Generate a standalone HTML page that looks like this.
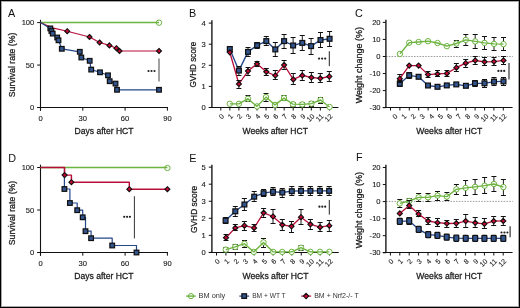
<!DOCTYPE html>
<html><head><meta charset="utf-8"><title>Figure</title>
<style>
html,body{margin:0;padding:0;background:#fff;}
body{width:520px;height:308px;overflow:hidden;font-family:"Liberation Sans", sans-serif;}
svg{display:block;}
text{-webkit-font-smoothing:antialiased;}
#wrap{filter:grayscale(0);will-change:transform;}
</style></head>
<body>
<div id="wrap"><svg width="520" height="308" viewBox="0 0 520 308" font-family='"Liberation Sans", sans-serif'>
<rect x="0" y="0" width="520" height="308" fill="#fff"/>
<text x="8" y="16.7" font-size="10.8" text-anchor="start" fill="#111" >A</text>
<line x1="40.5" y1="19.8" x2="40.5" y2="110.7" stroke="#111" stroke-width="1.1" />
<line x1="37.2" y1="107.5" x2="168" y2="107.5" stroke="#111" stroke-width="1.1" />
<line x1="37.2" y1="107.5" x2="40.5" y2="107.5" stroke="#111" stroke-width="1.0" />
<text x="34.3" y="110.1" font-size="7.6" text-anchor="end" fill="#1a1a1a" stroke="#1a1a1a" stroke-width="0.12">0</text>
<line x1="37.2" y1="65.05" x2="40.5" y2="65.05" stroke="#111" stroke-width="1.0" />
<text x="34.3" y="67.65" font-size="7.6" text-anchor="end" fill="#1a1a1a" stroke="#1a1a1a" stroke-width="0.12">50</text>
<line x1="37.2" y1="22.6" x2="40.5" y2="22.6" stroke="#111" stroke-width="1.0" />
<text x="34.3" y="25.2" font-size="7.6" text-anchor="end" fill="#1a1a1a" stroke="#1a1a1a" stroke-width="0.12">100</text>
<line x1="40.5" y1="107.5" x2="40.5" y2="110.7" stroke="#111" stroke-width="1.0" />
<text x="40.5" y="120.6" font-size="7.6" text-anchor="middle" fill="#1a1a1a" stroke="#1a1a1a" stroke-width="0.12">0</text>
<line x1="82.8" y1="107.5" x2="82.8" y2="110.7" stroke="#111" stroke-width="1.0" />
<text x="82.8" y="120.6" font-size="7.6" text-anchor="middle" fill="#1a1a1a" stroke="#1a1a1a" stroke-width="0.12">30</text>
<line x1="125.1" y1="107.5" x2="125.1" y2="110.7" stroke="#111" stroke-width="1.0" />
<text x="125.1" y="120.6" font-size="7.6" text-anchor="middle" fill="#1a1a1a" stroke="#1a1a1a" stroke-width="0.12">60</text>
<line x1="167.4" y1="107.5" x2="167.4" y2="110.7" stroke="#111" stroke-width="1.0" />
<text x="167.4" y="120.6" font-size="7.6" text-anchor="middle" fill="#1a1a1a" stroke="#1a1a1a" stroke-width="0.12">90</text>
<text x="0" y="0" transform="translate(15.4,97.2) rotate(-90)" font-size="9.4" fill="#1a1a1a" stroke="#1a1a1a" stroke-width="0.28" textLength="64.5" lengthAdjust="spacingAndGlyphs">Survival rate (%)</text>
<text x="74.5" y="134.1" font-size="9.4" fill="#1a1a1a" stroke="#1a1a1a" stroke-width="0.28" textLength="59" lengthAdjust="spacingAndGlyphs">Days after HCT</text>
<line x1="40.5" y1="22.6" x2="159" y2="22.6" stroke="#6cb33f" stroke-width="1.5" />
<circle cx="159" cy="22.7" r="2.7" fill="none" stroke="#6cb33f" stroke-width="1.0"/>
<polyline points="40.5,22.6 51.5,27.6 67.2,31.2 89.5,37 99.6,42.5 109.4,45.4 116.4,48.2 119.5,51 159,51" fill="none" stroke="#b80f3a" stroke-width="1.15" stroke-linejoin="round"/>
<polyline points="40.5,22.6 50.3,28.4 51.4,31 52.7,33.6 57.2,37.5 58.5,40.3 61.8,48.8 79.8,51.8 81.3,57.5 89.7,60.8 91.2,69.6 100,72.3 108,75.3 109.7,81.2 115.5,83.6 117,89.8 159,89.8" fill="none" stroke="#24478a" stroke-width="1.2" stroke-linejoin="round"/>
<path d="M67.2,28.7 L69.7,31.2 L67.2,33.7 L64.7,31.2 Z" fill="#c80632" stroke="#101010" stroke-width="1.1"/>
<path d="M89.5,34.5 L92,37 L89.5,39.5 L87,37 Z" fill="#c80632" stroke="#101010" stroke-width="1.1"/>
<path d="M99.6,40 L102.1,42.5 L99.6,45 L97.1,42.5 Z" fill="#c80632" stroke="#101010" stroke-width="1.1"/>
<path d="M109.4,42.9 L111.9,45.4 L109.4,47.9 L106.9,45.4 Z" fill="#c80632" stroke="#101010" stroke-width="1.1"/>
<path d="M116.4,45.7 L118.9,48.2 L116.4,50.7 L113.9,48.2 Z" fill="#c80632" stroke="#101010" stroke-width="1.1"/>
<path d="M119.5,48.5 L122,51 L119.5,53.5 L117,51 Z" fill="#c80632" stroke="#101010" stroke-width="1.1"/>
<path d="M159,48.5 L161.5,51 L159,53.5 L156.5,51 Z" fill="#c80632" stroke="#101010" stroke-width="1.1"/>
<rect x="48" y="26.1" width="4.6" height="4.6" rx="0" fill="#33558f" stroke="#101010" stroke-width="1.25"/>
<rect x="49.1" y="28.7" width="4.6" height="4.6" rx="0" fill="#33558f" stroke="#101010" stroke-width="1.25"/>
<rect x="50.4" y="31.3" width="4.6" height="4.6" rx="0" fill="#33558f" stroke="#101010" stroke-width="1.25"/>
<rect x="54.9" y="35.2" width="4.6" height="4.6" rx="0" fill="#33558f" stroke="#101010" stroke-width="1.25"/>
<rect x="56.2" y="38" width="4.6" height="4.6" rx="0" fill="#33558f" stroke="#101010" stroke-width="1.25"/>
<rect x="59.5" y="46.5" width="4.6" height="4.6" rx="0" fill="#33558f" stroke="#101010" stroke-width="1.25"/>
<rect x="77.5" y="49.5" width="4.6" height="4.6" rx="0" fill="#33558f" stroke="#101010" stroke-width="1.25"/>
<rect x="79" y="55.2" width="4.6" height="4.6" rx="0" fill="#33558f" stroke="#101010" stroke-width="1.25"/>
<rect x="87.4" y="58.5" width="4.6" height="4.6" rx="0" fill="#33558f" stroke="#101010" stroke-width="1.25"/>
<rect x="88.9" y="67.3" width="4.6" height="4.6" rx="0" fill="#33558f" stroke="#101010" stroke-width="1.25"/>
<rect x="97.7" y="70" width="4.6" height="4.6" rx="0" fill="#33558f" stroke="#101010" stroke-width="1.25"/>
<rect x="105.7" y="73" width="4.6" height="4.6" rx="0" fill="#33558f" stroke="#101010" stroke-width="1.25"/>
<rect x="107.4" y="78.9" width="4.6" height="4.6" rx="0" fill="#33558f" stroke="#101010" stroke-width="1.25"/>
<rect x="113.2" y="81.3" width="4.6" height="4.6" rx="0" fill="#33558f" stroke="#101010" stroke-width="1.25"/>
<rect x="114.7" y="87.5" width="4.6" height="4.6" rx="0" fill="#33558f" stroke="#101010" stroke-width="1.25"/>
<rect x="156.7" y="87.5" width="4.6" height="4.6" rx="0" fill="#33558f" stroke="#101010" stroke-width="1.25"/>
<line x1="159" y1="58.6" x2="159" y2="81.4" stroke="#555" stroke-width="1.1" />
<circle cx="148.5" cy="71" r="1.1" fill="#222"/>
<circle cx="151.5" cy="71" r="1.1" fill="#222"/>
<circle cx="154.5" cy="71" r="1.1" fill="#222"/>
<text x="8.3" y="161.8" font-size="10.8" text-anchor="start" fill="#111" >D</text>
<line x1="40.5" y1="164.7" x2="40.5" y2="255.7" stroke="#111" stroke-width="1.1" />
<line x1="37.2" y1="252.5" x2="168" y2="252.5" stroke="#111" stroke-width="1.1" />
<line x1="37.2" y1="252.5" x2="40.5" y2="252.5" stroke="#111" stroke-width="1.0" />
<text x="34.3" y="255.1" font-size="7.6" text-anchor="end" fill="#1a1a1a" stroke="#1a1a1a" stroke-width="0.12">0</text>
<line x1="37.2" y1="210" x2="40.5" y2="210" stroke="#111" stroke-width="1.0" />
<text x="34.3" y="212.6" font-size="7.6" text-anchor="end" fill="#1a1a1a" stroke="#1a1a1a" stroke-width="0.12">50</text>
<line x1="37.2" y1="167.5" x2="40.5" y2="167.5" stroke="#111" stroke-width="1.0" />
<text x="34.3" y="170.1" font-size="7.6" text-anchor="end" fill="#1a1a1a" stroke="#1a1a1a" stroke-width="0.12">100</text>
<line x1="40.5" y1="252.5" x2="40.5" y2="255.7" stroke="#111" stroke-width="1.0" />
<text x="40.5" y="265.6" font-size="7.6" text-anchor="middle" fill="#1a1a1a" stroke="#1a1a1a" stroke-width="0.12">0</text>
<line x1="82.8" y1="252.5" x2="82.8" y2="255.7" stroke="#111" stroke-width="1.0" />
<text x="82.8" y="265.6" font-size="7.6" text-anchor="middle" fill="#1a1a1a" stroke="#1a1a1a" stroke-width="0.12">30</text>
<line x1="125.1" y1="252.5" x2="125.1" y2="255.7" stroke="#111" stroke-width="1.0" />
<text x="125.1" y="265.6" font-size="7.6" text-anchor="middle" fill="#1a1a1a" stroke="#1a1a1a" stroke-width="0.12">60</text>
<line x1="167.4" y1="252.5" x2="167.4" y2="255.7" stroke="#111" stroke-width="1.0" />
<text x="167.4" y="265.6" font-size="7.6" text-anchor="middle" fill="#1a1a1a" stroke="#1a1a1a" stroke-width="0.12">90</text>
<text x="0" y="0" transform="translate(15.4,245.2) rotate(-90)" font-size="9.4" fill="#1a1a1a" stroke="#1a1a1a" stroke-width="0.28" textLength="64.4" lengthAdjust="spacingAndGlyphs">Survival rate (%)</text>
<text x="74.3" y="279.2" font-size="9.4" fill="#1a1a1a" stroke="#1a1a1a" stroke-width="0.28" textLength="59.1" lengthAdjust="spacingAndGlyphs">Days after HCT</text>
<line x1="40.5" y1="167.5" x2="167.4" y2="167.5" stroke="#6cb33f" stroke-width="1.5" />
<circle cx="167.4" cy="168" r="2.7" fill="none" stroke="#6cb33f" stroke-width="1.0"/>
<polyline points="40.4,167.5 64.4,167.5 64.4,189 69.9,189 69.9,203 77.2,203 77.2,210.2 82.7,210.2 82.7,217.3 85.5,217.3 85.5,231.2 91.1,231.2 91.1,238.2 112.2,238.2 112.2,245.5 136.5,245.5 136.5,252.5" fill="none" stroke="#24478a" stroke-width="1.2" stroke-linejoin="round"/>
<polyline points="40.4,167.5 64.6,167.5 64.6,175.1 71.4,175.1 71.4,182.2 129.3,182.2 129.3,189.2 167.4,189.2" fill="none" stroke="#b80f3a" stroke-width="1.45" stroke-linejoin="round"/>
<path d="M64.6,172.6 L67.1,175.1 L64.6,177.6 L62.1,175.1 Z" fill="#c80632" stroke="#101010" stroke-width="1.1"/>
<path d="M71.4,179.7 L73.9,182.2 L71.4,184.7 L68.9,182.2 Z" fill="#c80632" stroke="#101010" stroke-width="1.1"/>
<path d="M129.3,186.7 L131.8,189.2 L129.3,191.7 L126.8,189.2 Z" fill="#c80632" stroke="#101010" stroke-width="1.1"/>
<path d="M167.4,186.7 L169.9,189.2 L167.4,191.7 L164.9,189.2 Z" fill="#c80632" stroke="#101010" stroke-width="1.1"/>
<rect x="62.1" y="186.7" width="4.6" height="4.6" rx="0" fill="#33558f" stroke="#101010" stroke-width="1.25"/>
<rect x="67.6" y="200.7" width="4.6" height="4.6" rx="0" fill="#33558f" stroke="#101010" stroke-width="1.25"/>
<rect x="74.9" y="207.9" width="4.6" height="4.6" rx="0" fill="#33558f" stroke="#101010" stroke-width="1.25"/>
<rect x="80.4" y="215" width="4.6" height="4.6" rx="0" fill="#33558f" stroke="#101010" stroke-width="1.25"/>
<rect x="83.2" y="228.9" width="4.6" height="4.6" rx="0" fill="#33558f" stroke="#101010" stroke-width="1.25"/>
<rect x="88.8" y="235.9" width="4.6" height="4.6" rx="0" fill="#33558f" stroke="#101010" stroke-width="1.25"/>
<rect x="109.9" y="243.2" width="4.6" height="4.6" rx="0" fill="#33558f" stroke="#101010" stroke-width="1.25"/>
<rect x="134.2" y="250.2" width="4.6" height="4.6" rx="0" fill="#33558f" stroke="#101010" stroke-width="1.25"/>
<line x1="134.4" y1="196.2" x2="134.4" y2="238.4" stroke="#333" stroke-width="1.0" />
<circle cx="124.2" cy="216.8" r="1.1" fill="#222"/>
<circle cx="127.05" cy="216.8" r="1.1" fill="#222"/>
<circle cx="129.9" cy="216.8" r="1.1" fill="#222"/>
<text x="189" y="16.7" font-size="10.8" text-anchor="start" fill="#111" >B</text>
<line x1="211.9" y1="20.3" x2="211.9" y2="108" stroke="#111" stroke-width="1.35" />
<line x1="208.8" y1="107.5" x2="338.4" y2="107.5" stroke="#111" stroke-width="1.1" />
<line x1="208.8" y1="107.5" x2="211.9" y2="107.5" stroke="#111" stroke-width="1.0" />
<text x="205.8" y="110.1" font-size="7.6" text-anchor="end" fill="#1a1a1a" stroke="#1a1a1a" stroke-width="0.12">0</text>
<line x1="208.8" y1="86.4" x2="211.9" y2="86.4" stroke="#111" stroke-width="1.0" />
<text x="205.8" y="89" font-size="7.6" text-anchor="end" fill="#1a1a1a" stroke="#1a1a1a" stroke-width="0.12">1</text>
<line x1="208.8" y1="65.3" x2="211.9" y2="65.3" stroke="#111" stroke-width="1.0" />
<text x="205.8" y="67.9" font-size="7.6" text-anchor="end" fill="#1a1a1a" stroke="#1a1a1a" stroke-width="0.12">2</text>
<line x1="208.8" y1="44.2" x2="211.9" y2="44.2" stroke="#111" stroke-width="1.0" />
<text x="205.8" y="46.8" font-size="7.6" text-anchor="end" fill="#1a1a1a" stroke="#1a1a1a" stroke-width="0.12">3</text>
<line x1="208.8" y1="23.1" x2="211.9" y2="23.1" stroke="#111" stroke-width="1.0" />
<text x="205.8" y="25.7" font-size="7.6" text-anchor="end" fill="#1a1a1a" stroke="#1a1a1a" stroke-width="0.12">4</text>
<line x1="220.8" y1="107.5" x2="220.8" y2="110.5" stroke="#111" stroke-width="1.0" />
<text x="0" y="0" transform="translate(222.6,115) rotate(-45)" font-size="7.0" text-anchor="end" fill="#1a1a1a" stroke="#1a1a1a" stroke-width="0.12" dy="2.6">0</text>
<line x1="229.85" y1="107.5" x2="229.85" y2="110.5" stroke="#111" stroke-width="1.0" />
<text x="0" y="0" transform="translate(231.65,115) rotate(-45)" font-size="7.0" text-anchor="end" fill="#1a1a1a" stroke="#1a1a1a" stroke-width="0.12" dy="2.6">1</text>
<line x1="238.9" y1="107.5" x2="238.9" y2="110.5" stroke="#111" stroke-width="1.0" />
<text x="0" y="0" transform="translate(240.7,115) rotate(-45)" font-size="7.0" text-anchor="end" fill="#1a1a1a" stroke="#1a1a1a" stroke-width="0.12" dy="2.6">2</text>
<line x1="247.95" y1="107.5" x2="247.95" y2="110.5" stroke="#111" stroke-width="1.0" />
<text x="0" y="0" transform="translate(249.75,115) rotate(-45)" font-size="7.0" text-anchor="end" fill="#1a1a1a" stroke="#1a1a1a" stroke-width="0.12" dy="2.6">3</text>
<line x1="257" y1="107.5" x2="257" y2="110.5" stroke="#111" stroke-width="1.0" />
<text x="0" y="0" transform="translate(258.8,115) rotate(-45)" font-size="7.0" text-anchor="end" fill="#1a1a1a" stroke="#1a1a1a" stroke-width="0.12" dy="2.6">4</text>
<line x1="266.05" y1="107.5" x2="266.05" y2="110.5" stroke="#111" stroke-width="1.0" />
<text x="0" y="0" transform="translate(267.85,115) rotate(-45)" font-size="7.0" text-anchor="end" fill="#1a1a1a" stroke="#1a1a1a" stroke-width="0.12" dy="2.6">5</text>
<line x1="275.1" y1="107.5" x2="275.1" y2="110.5" stroke="#111" stroke-width="1.0" />
<text x="0" y="0" transform="translate(276.9,115) rotate(-45)" font-size="7.0" text-anchor="end" fill="#1a1a1a" stroke="#1a1a1a" stroke-width="0.12" dy="2.6">6</text>
<line x1="284.15" y1="107.5" x2="284.15" y2="110.5" stroke="#111" stroke-width="1.0" />
<text x="0" y="0" transform="translate(285.95,115) rotate(-45)" font-size="7.0" text-anchor="end" fill="#1a1a1a" stroke="#1a1a1a" stroke-width="0.12" dy="2.6">7</text>
<line x1="293.2" y1="107.5" x2="293.2" y2="110.5" stroke="#111" stroke-width="1.0" />
<text x="0" y="0" transform="translate(295,115) rotate(-45)" font-size="7.0" text-anchor="end" fill="#1a1a1a" stroke="#1a1a1a" stroke-width="0.12" dy="2.6">8</text>
<line x1="302.25" y1="107.5" x2="302.25" y2="110.5" stroke="#111" stroke-width="1.0" />
<text x="0" y="0" transform="translate(304.05,115) rotate(-45)" font-size="7.0" text-anchor="end" fill="#1a1a1a" stroke="#1a1a1a" stroke-width="0.12" dy="2.6">9</text>
<line x1="311.3" y1="107.5" x2="311.3" y2="110.5" stroke="#111" stroke-width="1.0" />
<text x="0" y="0" transform="translate(313.1,115) rotate(-45)" font-size="7.0" text-anchor="end" fill="#1a1a1a" stroke="#1a1a1a" stroke-width="0.12" dy="2.6">10</text>
<line x1="320.35" y1="107.5" x2="320.35" y2="110.5" stroke="#111" stroke-width="1.0" />
<text x="0" y="0" transform="translate(322.15,115) rotate(-45)" font-size="7.0" text-anchor="end" fill="#1a1a1a" stroke="#1a1a1a" stroke-width="0.12" dy="2.6">11</text>
<line x1="329.4" y1="107.5" x2="329.4" y2="110.5" stroke="#111" stroke-width="1.0" />
<text x="0" y="0" transform="translate(331.2,115) rotate(-45)" font-size="7.0" text-anchor="end" fill="#1a1a1a" stroke="#1a1a1a" stroke-width="0.12" dy="2.6">12</text>
<text x="0" y="0" transform="translate(195.8,87.6) rotate(-90)" font-size="9.4" fill="#1a1a1a" stroke="#1a1a1a" stroke-width="0.28" textLength="45.8" lengthAdjust="spacingAndGlyphs">GVHD score</text>
<text x="242.5" y="133.8" font-size="9.4" fill="#1a1a1a" stroke="#1a1a1a" stroke-width="0.28" textLength="65.4" lengthAdjust="spacingAndGlyphs">Weeks after HCT</text>
<line x1="248" y1="95.5" x2="248" y2="101.5" stroke="#111" stroke-width="0.95" />
<line x1="245.5" y1="95.5" x2="250.5" y2="95.5" stroke="#111" stroke-width="1.0" />
<line x1="245.5" y1="101.5" x2="250.5" y2="101.5" stroke="#111" stroke-width="1.0" />
<line x1="266" y1="93.5" x2="266" y2="101.5" stroke="#111" stroke-width="0.95" />
<line x1="263.5" y1="93.5" x2="268.5" y2="93.5" stroke="#111" stroke-width="1.0" />
<line x1="263.5" y1="101.5" x2="268.5" y2="101.5" stroke="#111" stroke-width="1.0" />
<line x1="284" y1="95.5" x2="284" y2="100.5" stroke="#111" stroke-width="0.95" />
<line x1="281.5" y1="95.5" x2="286.5" y2="95.5" stroke="#111" stroke-width="1.0" />
<line x1="281.5" y1="100.5" x2="286.5" y2="100.5" stroke="#111" stroke-width="1.0" />
<line x1="293" y1="102.5" x2="293" y2="106.5" stroke="#111" stroke-width="0.95" />
<line x1="290.5" y1="102.5" x2="295.5" y2="102.5" stroke="#111" stroke-width="1.0" />
<line x1="290.5" y1="106.5" x2="295.5" y2="106.5" stroke="#111" stroke-width="1.0" />
<line x1="302.3" y1="102.5" x2="302.3" y2="106.5" stroke="#111" stroke-width="0.95" />
<line x1="299.8" y1="102.5" x2="304.8" y2="102.5" stroke="#111" stroke-width="1.0" />
<line x1="299.8" y1="106.5" x2="304.8" y2="106.5" stroke="#111" stroke-width="1.0" />
<line x1="311.4" y1="101.5" x2="311.4" y2="106.5" stroke="#111" stroke-width="0.95" />
<line x1="308.9" y1="101.5" x2="313.9" y2="101.5" stroke="#111" stroke-width="1.0" />
<line x1="308.9" y1="106.5" x2="313.9" y2="106.5" stroke="#111" stroke-width="1.0" />
<line x1="320.5" y1="97.5" x2="320.5" y2="103.5" stroke="#111" stroke-width="0.95" />
<line x1="318" y1="97.5" x2="323" y2="97.5" stroke="#111" stroke-width="1.0" />
<line x1="318" y1="103.5" x2="323" y2="103.5" stroke="#111" stroke-width="1.0" />
<circle cx="229.8" cy="103.8" r="2.7" fill="#fff" stroke="#6cb33f" stroke-width="1.0"/>
<circle cx="238.9" cy="103.8" r="2.7" fill="#fff" stroke="#6cb33f" stroke-width="1.0"/>
<circle cx="248" cy="98.7" r="2.7" fill="#fff" stroke="#6cb33f" stroke-width="1.0"/>
<circle cx="257" cy="106.4" r="2.7" fill="#fff" stroke="#6cb33f" stroke-width="1.0"/>
<circle cx="266" cy="97.1" r="2.7" fill="#fff" stroke="#6cb33f" stroke-width="1.0"/>
<circle cx="275" cy="104.9" r="2.7" fill="#fff" stroke="#6cb33f" stroke-width="1.0"/>
<circle cx="284" cy="98.1" r="2.7" fill="#fff" stroke="#6cb33f" stroke-width="1.0"/>
<circle cx="293" cy="104.2" r="2.7" fill="#fff" stroke="#6cb33f" stroke-width="1.0"/>
<circle cx="302.3" cy="104.4" r="2.7" fill="#fff" stroke="#6cb33f" stroke-width="1.0"/>
<circle cx="311.4" cy="103.6" r="2.7" fill="#fff" stroke="#6cb33f" stroke-width="1.0"/>
<circle cx="320.5" cy="100" r="2.7" fill="#fff" stroke="#6cb33f" stroke-width="1.0"/>
<circle cx="329.6" cy="107" r="2.7" fill="#fff" stroke="#6cb33f" stroke-width="1.0"/>
<polyline points="229.8,103.8 238.9,103.8 248,98.7 257,106.4 266,97.1 275,104.9 284,98.1 293,104.2 302.3,104.4 311.4,103.6 320.5,100 329.6,107" fill="none" stroke="#6cb33f" stroke-width="1.35" stroke-linejoin="round"/>
<polyline points="229.8,49 238.9,70.6 248,51.9 257.1,45.3 266.3,41.1 275.3,49.4 284.1,41.1 293.1,45.5 302.3,42.9 311.1,46.1 320.5,40 329.6,38.8" fill="none" stroke="#24478a" stroke-width="1.35" stroke-linejoin="round"/>
<line x1="229.8" y1="46.5" x2="229.8" y2="51.5" stroke="#111" stroke-width="0.95" />
<line x1="227.3" y1="46.5" x2="232.3" y2="46.5" stroke="#111" stroke-width="1.0" />
<line x1="227.3" y1="51.5" x2="232.3" y2="51.5" stroke="#111" stroke-width="1.0" />
<line x1="238.9" y1="66.5" x2="238.9" y2="75.5" stroke="#111" stroke-width="0.95" />
<line x1="236.4" y1="66.5" x2="241.4" y2="66.5" stroke="#111" stroke-width="1.0" />
<line x1="236.4" y1="75.5" x2="241.4" y2="75.5" stroke="#111" stroke-width="1.0" />
<line x1="248" y1="47.5" x2="248" y2="56.5" stroke="#111" stroke-width="0.95" />
<line x1="245.5" y1="47.5" x2="250.5" y2="47.5" stroke="#111" stroke-width="1.0" />
<line x1="245.5" y1="56.5" x2="250.5" y2="56.5" stroke="#111" stroke-width="1.0" />
<line x1="257.1" y1="42.5" x2="257.1" y2="48.5" stroke="#111" stroke-width="0.95" />
<line x1="254.6" y1="42.5" x2="259.6" y2="42.5" stroke="#111" stroke-width="1.0" />
<line x1="254.6" y1="48.5" x2="259.6" y2="48.5" stroke="#111" stroke-width="1.0" />
<line x1="266.3" y1="36.5" x2="266.3" y2="45.5" stroke="#111" stroke-width="0.95" />
<line x1="263.8" y1="36.5" x2="268.8" y2="36.5" stroke="#111" stroke-width="1.0" />
<line x1="263.8" y1="45.5" x2="268.8" y2="45.5" stroke="#111" stroke-width="1.0" />
<line x1="275.3" y1="42.5" x2="275.3" y2="56.5" stroke="#111" stroke-width="0.95" />
<line x1="272.8" y1="42.5" x2="277.8" y2="42.5" stroke="#111" stroke-width="1.0" />
<line x1="272.8" y1="56.5" x2="277.8" y2="56.5" stroke="#111" stroke-width="1.0" />
<line x1="284.1" y1="34.5" x2="284.1" y2="48.5" stroke="#111" stroke-width="0.95" />
<line x1="281.6" y1="34.5" x2="286.6" y2="34.5" stroke="#111" stroke-width="1.0" />
<line x1="281.6" y1="48.5" x2="286.6" y2="48.5" stroke="#111" stroke-width="1.0" />
<line x1="293.1" y1="37.5" x2="293.1" y2="53.5" stroke="#111" stroke-width="0.95" />
<line x1="290.6" y1="37.5" x2="295.6" y2="37.5" stroke="#111" stroke-width="1.0" />
<line x1="290.6" y1="53.5" x2="295.6" y2="53.5" stroke="#111" stroke-width="1.0" />
<line x1="302.3" y1="35.5" x2="302.3" y2="50.5" stroke="#111" stroke-width="0.95" />
<line x1="299.8" y1="35.5" x2="304.8" y2="35.5" stroke="#111" stroke-width="1.0" />
<line x1="299.8" y1="50.5" x2="304.8" y2="50.5" stroke="#111" stroke-width="1.0" />
<line x1="311.1" y1="38.5" x2="311.1" y2="54.5" stroke="#111" stroke-width="0.95" />
<line x1="308.6" y1="38.5" x2="313.6" y2="38.5" stroke="#111" stroke-width="1.0" />
<line x1="308.6" y1="54.5" x2="313.6" y2="54.5" stroke="#111" stroke-width="1.0" />
<line x1="320.5" y1="32.5" x2="320.5" y2="47.5" stroke="#111" stroke-width="0.95" />
<line x1="318" y1="32.5" x2="323" y2="32.5" stroke="#111" stroke-width="1.0" />
<line x1="318" y1="47.5" x2="323" y2="47.5" stroke="#111" stroke-width="1.0" />
<line x1="329.6" y1="31.5" x2="329.6" y2="46.5" stroke="#111" stroke-width="0.95" />
<line x1="327.1" y1="31.5" x2="332.1" y2="31.5" stroke="#111" stroke-width="1.0" />
<line x1="327.1" y1="46.5" x2="332.1" y2="46.5" stroke="#111" stroke-width="1.0" />
<rect x="227.4" y="46.6" width="4.8" height="4.8" rx="0" fill="#33558f" stroke="#101010" stroke-width="1.25"/>
<rect x="236.5" y="68.2" width="4.8" height="4.8" rx="0" fill="#33558f" stroke="#101010" stroke-width="1.25"/>
<rect x="245.6" y="49.5" width="4.8" height="4.8" rx="0" fill="#33558f" stroke="#101010" stroke-width="1.25"/>
<rect x="254.7" y="42.9" width="4.8" height="4.8" rx="0" fill="#33558f" stroke="#101010" stroke-width="1.25"/>
<rect x="263.9" y="38.7" width="4.8" height="4.8" rx="0" fill="#33558f" stroke="#101010" stroke-width="1.25"/>
<rect x="272.9" y="47" width="4.8" height="4.8" rx="0" fill="#33558f" stroke="#101010" stroke-width="1.25"/>
<rect x="281.7" y="38.7" width="4.8" height="4.8" rx="0" fill="#33558f" stroke="#101010" stroke-width="1.25"/>
<rect x="290.7" y="43.1" width="4.8" height="4.8" rx="0" fill="#33558f" stroke="#101010" stroke-width="1.25"/>
<rect x="299.9" y="40.5" width="4.8" height="4.8" rx="0" fill="#33558f" stroke="#101010" stroke-width="1.25"/>
<rect x="308.7" y="43.7" width="4.8" height="4.8" rx="0" fill="#33558f" stroke="#101010" stroke-width="1.25"/>
<rect x="318.1" y="37.6" width="4.8" height="4.8" rx="0" fill="#33558f" stroke="#101010" stroke-width="1.25"/>
<rect x="327.2" y="36.4" width="4.8" height="4.8" rx="0" fill="#33558f" stroke="#101010" stroke-width="1.25"/>
<polyline points="229.8,52.3 238.9,84 248,71.1 257,63.8 266.3,71.8 275.3,75.5 284.1,65 293.3,79.4 302.3,75.4 311.4,77.5 320.3,78.3 329.3,76.5" fill="none" stroke="#b80f3a" stroke-width="1.3" stroke-linejoin="round"/>
<line x1="238.9" y1="80.5" x2="238.9" y2="88.5" stroke="#111" stroke-width="0.95" />
<line x1="236.4" y1="80.5" x2="241.4" y2="80.5" stroke="#111" stroke-width="1.0" />
<line x1="236.4" y1="88.5" x2="241.4" y2="88.5" stroke="#111" stroke-width="1.0" />
<line x1="248" y1="67.5" x2="248" y2="75.5" stroke="#111" stroke-width="0.95" />
<line x1="245.5" y1="67.5" x2="250.5" y2="67.5" stroke="#111" stroke-width="1.0" />
<line x1="245.5" y1="75.5" x2="250.5" y2="75.5" stroke="#111" stroke-width="1.0" />
<line x1="257" y1="61.5" x2="257" y2="66.5" stroke="#111" stroke-width="0.95" />
<line x1="254.5" y1="61.5" x2="259.5" y2="61.5" stroke="#111" stroke-width="1.0" />
<line x1="254.5" y1="66.5" x2="259.5" y2="66.5" stroke="#111" stroke-width="1.0" />
<line x1="266.3" y1="68.5" x2="266.3" y2="75.5" stroke="#111" stroke-width="0.95" />
<line x1="263.8" y1="68.5" x2="268.8" y2="68.5" stroke="#111" stroke-width="1.0" />
<line x1="263.8" y1="75.5" x2="268.8" y2="75.5" stroke="#111" stroke-width="1.0" />
<line x1="275.3" y1="70.5" x2="275.3" y2="79.5" stroke="#111" stroke-width="0.95" />
<line x1="272.8" y1="70.5" x2="277.8" y2="70.5" stroke="#111" stroke-width="1.0" />
<line x1="272.8" y1="79.5" x2="277.8" y2="79.5" stroke="#111" stroke-width="1.0" />
<line x1="284.1" y1="60.5" x2="284.1" y2="69.5" stroke="#111" stroke-width="0.95" />
<line x1="281.6" y1="60.5" x2="286.6" y2="60.5" stroke="#111" stroke-width="1.0" />
<line x1="281.6" y1="69.5" x2="286.6" y2="69.5" stroke="#111" stroke-width="1.0" />
<line x1="293.3" y1="73.5" x2="293.3" y2="84.5" stroke="#111" stroke-width="0.95" />
<line x1="290.8" y1="73.5" x2="295.8" y2="73.5" stroke="#111" stroke-width="1.0" />
<line x1="290.8" y1="84.5" x2="295.8" y2="84.5" stroke="#111" stroke-width="1.0" />
<line x1="302.3" y1="70.5" x2="302.3" y2="80.5" stroke="#111" stroke-width="0.95" />
<line x1="299.8" y1="70.5" x2="304.8" y2="70.5" stroke="#111" stroke-width="1.0" />
<line x1="299.8" y1="80.5" x2="304.8" y2="80.5" stroke="#111" stroke-width="1.0" />
<line x1="311.4" y1="72.5" x2="311.4" y2="82.5" stroke="#111" stroke-width="0.95" />
<line x1="308.9" y1="72.5" x2="313.9" y2="72.5" stroke="#111" stroke-width="1.0" />
<line x1="308.9" y1="82.5" x2="313.9" y2="82.5" stroke="#111" stroke-width="1.0" />
<line x1="320.3" y1="73.5" x2="320.3" y2="82.5" stroke="#111" stroke-width="0.95" />
<line x1="317.8" y1="73.5" x2="322.8" y2="73.5" stroke="#111" stroke-width="1.0" />
<line x1="317.8" y1="82.5" x2="322.8" y2="82.5" stroke="#111" stroke-width="1.0" />
<line x1="329.3" y1="71.5" x2="329.3" y2="81.5" stroke="#111" stroke-width="0.95" />
<line x1="326.8" y1="71.5" x2="331.8" y2="71.5" stroke="#111" stroke-width="1.0" />
<line x1="326.8" y1="81.5" x2="331.8" y2="81.5" stroke="#111" stroke-width="1.0" />
<path d="M229.8,49.75 L232.35,52.3 L229.8,54.85 L227.25,52.3 Z" fill="#c80632" stroke="#101010" stroke-width="1.1"/>
<path d="M238.9,81.45 L241.45,84 L238.9,86.55 L236.35,84 Z" fill="#c80632" stroke="#101010" stroke-width="1.1"/>
<path d="M248,68.55 L250.55,71.1 L248,73.65 L245.45,71.1 Z" fill="#c80632" stroke="#101010" stroke-width="1.1"/>
<path d="M257,61.25 L259.55,63.8 L257,66.35 L254.45,63.8 Z" fill="#c80632" stroke="#101010" stroke-width="1.1"/>
<path d="M266.3,69.25 L268.85,71.8 L266.3,74.35 L263.75,71.8 Z" fill="#c80632" stroke="#101010" stroke-width="1.1"/>
<path d="M275.3,72.95 L277.85,75.5 L275.3,78.05 L272.75,75.5 Z" fill="#c80632" stroke="#101010" stroke-width="1.1"/>
<path d="M284.1,62.45 L286.65,65 L284.1,67.55 L281.55,65 Z" fill="#c80632" stroke="#101010" stroke-width="1.1"/>
<path d="M293.3,76.85 L295.85,79.4 L293.3,81.95 L290.75,79.4 Z" fill="#c80632" stroke="#101010" stroke-width="1.1"/>
<path d="M302.3,72.85 L304.85,75.4 L302.3,77.95 L299.75,75.4 Z" fill="#c80632" stroke="#101010" stroke-width="1.1"/>
<path d="M311.4,74.95 L313.95,77.5 L311.4,80.05 L308.85,77.5 Z" fill="#c80632" stroke="#101010" stroke-width="1.1"/>
<path d="M320.3,75.75 L322.85,78.3 L320.3,80.85 L317.75,78.3 Z" fill="#c80632" stroke="#101010" stroke-width="1.1"/>
<path d="M329.3,73.95 L331.85,76.5 L329.3,79.05 L326.75,76.5 Z" fill="#c80632" stroke="#101010" stroke-width="1.1"/>
<line x1="329.3" y1="51.2" x2="329.3" y2="66.1" stroke="#222" stroke-width="1.0" />
<circle cx="319.1" cy="58.6" r="1.1" fill="#222"/>
<circle cx="322.15" cy="58.6" r="1.1" fill="#222"/>
<circle cx="325.2" cy="58.6" r="1.1" fill="#222"/>
<text x="189.2" y="161.6" font-size="10.8" text-anchor="start" fill="#111" >E</text>
<line x1="211.9" y1="164.7" x2="211.9" y2="253" stroke="#111" stroke-width="1.35" />
<line x1="208.8" y1="252.5" x2="338.8" y2="252.5" stroke="#111" stroke-width="1.1" />
<line x1="208.8" y1="252.4" x2="211.9" y2="252.4" stroke="#111" stroke-width="1.0" />
<text x="205.8" y="255" font-size="7.6" text-anchor="end" fill="#1a1a1a" stroke="#1a1a1a" stroke-width="0.12">0</text>
<line x1="208.8" y1="235.35" x2="211.9" y2="235.35" stroke="#111" stroke-width="1.0" />
<text x="205.8" y="237.95" font-size="7.6" text-anchor="end" fill="#1a1a1a" stroke="#1a1a1a" stroke-width="0.12">1</text>
<line x1="208.8" y1="218.3" x2="211.9" y2="218.3" stroke="#111" stroke-width="1.0" />
<text x="205.8" y="220.9" font-size="7.6" text-anchor="end" fill="#1a1a1a" stroke="#1a1a1a" stroke-width="0.12">2</text>
<line x1="208.8" y1="201.25" x2="211.9" y2="201.25" stroke="#111" stroke-width="1.0" />
<text x="205.8" y="203.85" font-size="7.6" text-anchor="end" fill="#1a1a1a" stroke="#1a1a1a" stroke-width="0.12">3</text>
<line x1="208.8" y1="184.2" x2="211.9" y2="184.2" stroke="#111" stroke-width="1.0" />
<text x="205.8" y="186.8" font-size="7.6" text-anchor="end" fill="#1a1a1a" stroke="#1a1a1a" stroke-width="0.12">4</text>
<line x1="208.8" y1="167.15" x2="211.9" y2="167.15" stroke="#111" stroke-width="1.0" />
<text x="205.8" y="169.75" font-size="7.6" text-anchor="end" fill="#1a1a1a" stroke="#1a1a1a" stroke-width="0.12">5</text>
<line x1="216.5" y1="252.5" x2="216.5" y2="255.5" stroke="#111" stroke-width="1.0" />
<text x="0" y="0" transform="translate(218.5,260) rotate(-45)" font-size="7.0" text-anchor="end" fill="#1a1a1a" stroke="#1a1a1a" stroke-width="0.12" dy="2.6">0</text>
<line x1="225.92" y1="252.5" x2="225.92" y2="255.5" stroke="#111" stroke-width="1.0" />
<text x="0" y="0" transform="translate(227.92,260) rotate(-45)" font-size="7.0" text-anchor="end" fill="#1a1a1a" stroke="#1a1a1a" stroke-width="0.12" dy="2.6">1</text>
<line x1="235.34" y1="252.5" x2="235.34" y2="255.5" stroke="#111" stroke-width="1.0" />
<text x="0" y="0" transform="translate(237.34,260) rotate(-45)" font-size="7.0" text-anchor="end" fill="#1a1a1a" stroke="#1a1a1a" stroke-width="0.12" dy="2.6">2</text>
<line x1="244.76" y1="252.5" x2="244.76" y2="255.5" stroke="#111" stroke-width="1.0" />
<text x="0" y="0" transform="translate(246.76,260) rotate(-45)" font-size="7.0" text-anchor="end" fill="#1a1a1a" stroke="#1a1a1a" stroke-width="0.12" dy="2.6">3</text>
<line x1="254.18" y1="252.5" x2="254.18" y2="255.5" stroke="#111" stroke-width="1.0" />
<text x="0" y="0" transform="translate(256.18,260) rotate(-45)" font-size="7.0" text-anchor="end" fill="#1a1a1a" stroke="#1a1a1a" stroke-width="0.12" dy="2.6">4</text>
<line x1="263.6" y1="252.5" x2="263.6" y2="255.5" stroke="#111" stroke-width="1.0" />
<text x="0" y="0" transform="translate(265.6,260) rotate(-45)" font-size="7.0" text-anchor="end" fill="#1a1a1a" stroke="#1a1a1a" stroke-width="0.12" dy="2.6">5</text>
<line x1="273.02" y1="252.5" x2="273.02" y2="255.5" stroke="#111" stroke-width="1.0" />
<text x="0" y="0" transform="translate(275.02,260) rotate(-45)" font-size="7.0" text-anchor="end" fill="#1a1a1a" stroke="#1a1a1a" stroke-width="0.12" dy="2.6">6</text>
<line x1="282.44" y1="252.5" x2="282.44" y2="255.5" stroke="#111" stroke-width="1.0" />
<text x="0" y="0" transform="translate(284.44,260) rotate(-45)" font-size="7.0" text-anchor="end" fill="#1a1a1a" stroke="#1a1a1a" stroke-width="0.12" dy="2.6">7</text>
<line x1="291.86" y1="252.5" x2="291.86" y2="255.5" stroke="#111" stroke-width="1.0" />
<text x="0" y="0" transform="translate(293.86,260) rotate(-45)" font-size="7.0" text-anchor="end" fill="#1a1a1a" stroke="#1a1a1a" stroke-width="0.12" dy="2.6">8</text>
<line x1="301.28" y1="252.5" x2="301.28" y2="255.5" stroke="#111" stroke-width="1.0" />
<text x="0" y="0" transform="translate(303.28,260) rotate(-45)" font-size="7.0" text-anchor="end" fill="#1a1a1a" stroke="#1a1a1a" stroke-width="0.12" dy="2.6">9</text>
<line x1="310.7" y1="252.5" x2="310.7" y2="255.5" stroke="#111" stroke-width="1.0" />
<text x="0" y="0" transform="translate(312.7,260) rotate(-45)" font-size="7.0" text-anchor="end" fill="#1a1a1a" stroke="#1a1a1a" stroke-width="0.12" dy="2.6">10</text>
<line x1="320.12" y1="252.5" x2="320.12" y2="255.5" stroke="#111" stroke-width="1.0" />
<text x="0" y="0" transform="translate(322.12,260) rotate(-45)" font-size="7.0" text-anchor="end" fill="#1a1a1a" stroke="#1a1a1a" stroke-width="0.12" dy="2.6">11</text>
<line x1="329.54" y1="252.5" x2="329.54" y2="255.5" stroke="#111" stroke-width="1.0" />
<text x="0" y="0" transform="translate(331.54,260) rotate(-45)" font-size="7.0" text-anchor="end" fill="#1a1a1a" stroke="#1a1a1a" stroke-width="0.12" dy="2.6">12</text>
<text x="0" y="0" transform="translate(196.6,233) rotate(-90)" font-size="9.4" fill="#1a1a1a" stroke="#1a1a1a" stroke-width="0.28" textLength="47.1" lengthAdjust="spacingAndGlyphs">GVHD score</text>
<text x="242.5" y="279.4" font-size="9.4" fill="#1a1a1a" stroke="#1a1a1a" stroke-width="0.28" textLength="66" lengthAdjust="spacingAndGlyphs">Weeks after HCT</text>
<line x1="225.8" y1="247.5" x2="225.8" y2="251.5" stroke="#111" stroke-width="0.95" />
<line x1="223.3" y1="247.5" x2="228.3" y2="247.5" stroke="#111" stroke-width="1.0" />
<line x1="223.3" y1="251.5" x2="228.3" y2="251.5" stroke="#111" stroke-width="1.0" />
<line x1="235.2" y1="244.5" x2="235.2" y2="249.5" stroke="#111" stroke-width="0.95" />
<line x1="232.7" y1="244.5" x2="237.7" y2="244.5" stroke="#111" stroke-width="1.0" />
<line x1="232.7" y1="249.5" x2="237.7" y2="249.5" stroke="#111" stroke-width="1.0" />
<line x1="244.5" y1="240.5" x2="244.5" y2="247.5" stroke="#111" stroke-width="0.95" />
<line x1="242" y1="240.5" x2="247" y2="240.5" stroke="#111" stroke-width="1.0" />
<line x1="242" y1="247.5" x2="247" y2="247.5" stroke="#111" stroke-width="1.0" />
<line x1="263.5" y1="238.5" x2="263.5" y2="247.5" stroke="#111" stroke-width="0.95" />
<line x1="261" y1="238.5" x2="266" y2="238.5" stroke="#111" stroke-width="1.0" />
<line x1="261" y1="247.5" x2="266" y2="247.5" stroke="#111" stroke-width="1.0" />
<line x1="301" y1="245.5" x2="301" y2="250.5" stroke="#111" stroke-width="0.95" />
<line x1="298.5" y1="245.5" x2="303.5" y2="245.5" stroke="#111" stroke-width="1.0" />
<line x1="298.5" y1="250.5" x2="303.5" y2="250.5" stroke="#111" stroke-width="1.0" />
<circle cx="225.8" cy="249.6" r="2.7" fill="#fff" stroke="#6cb33f" stroke-width="1.0"/>
<circle cx="235.2" cy="246.9" r="2.7" fill="#fff" stroke="#6cb33f" stroke-width="1.0"/>
<circle cx="244.5" cy="243.7" r="2.7" fill="#fff" stroke="#6cb33f" stroke-width="1.0"/>
<circle cx="253.8" cy="251.9" r="2.7" fill="#fff" stroke="#6cb33f" stroke-width="1.0"/>
<circle cx="263.5" cy="242.4" r="2.7" fill="#fff" stroke="#6cb33f" stroke-width="1.0"/>
<circle cx="273.2" cy="251.9" r="2.7" fill="#fff" stroke="#6cb33f" stroke-width="1.0"/>
<circle cx="282.2" cy="251.9" r="2.7" fill="#fff" stroke="#6cb33f" stroke-width="1.0"/>
<circle cx="291.7" cy="251.9" r="2.7" fill="#fff" stroke="#6cb33f" stroke-width="1.0"/>
<circle cx="301" cy="247.7" r="2.7" fill="#fff" stroke="#6cb33f" stroke-width="1.0"/>
<circle cx="310.4" cy="251.8" r="2.7" fill="#fff" stroke="#6cb33f" stroke-width="1.0"/>
<circle cx="320" cy="251.8" r="2.7" fill="#fff" stroke="#6cb33f" stroke-width="1.0"/>
<circle cx="329.4" cy="251.8" r="2.7" fill="#fff" stroke="#6cb33f" stroke-width="1.0"/>
<polyline points="225.8,249.6 235.2,246.9 244.5,243.7 253.8,251.9 263.5,242.4 273.2,251.9 282.2,251.9 291.7,251.9 301,247.7 310.4,251.8 320,251.8 329.4,251.8" fill="none" stroke="#6cb33f" stroke-width="1.35" stroke-linejoin="round"/>
<polyline points="225.6,220.6 235.3,211.3 244.4,204.5 254.2,196.7 263.6,193.2 273,191.7 282.3,192.5 291.8,191.2 301,190.9 310.4,190.9 319.9,190.9 329.1,190.9" fill="none" stroke="#24478a" stroke-width="1.35" stroke-linejoin="round"/>
<line x1="225.6" y1="217.5" x2="225.6" y2="223.5" stroke="#111" stroke-width="0.95" />
<line x1="223.1" y1="217.5" x2="228.1" y2="217.5" stroke="#111" stroke-width="1.0" />
<line x1="223.1" y1="223.5" x2="228.1" y2="223.5" stroke="#111" stroke-width="1.0" />
<line x1="235.3" y1="206.5" x2="235.3" y2="216.5" stroke="#111" stroke-width="0.95" />
<line x1="232.8" y1="206.5" x2="237.8" y2="206.5" stroke="#111" stroke-width="1.0" />
<line x1="232.8" y1="216.5" x2="237.8" y2="216.5" stroke="#111" stroke-width="1.0" />
<line x1="244.4" y1="198.5" x2="244.4" y2="210.5" stroke="#111" stroke-width="0.95" />
<line x1="241.9" y1="198.5" x2="246.9" y2="198.5" stroke="#111" stroke-width="1.0" />
<line x1="241.9" y1="210.5" x2="246.9" y2="210.5" stroke="#111" stroke-width="1.0" />
<line x1="254.2" y1="191.5" x2="254.2" y2="201.5" stroke="#111" stroke-width="0.95" />
<line x1="251.7" y1="191.5" x2="256.7" y2="191.5" stroke="#111" stroke-width="1.0" />
<line x1="251.7" y1="201.5" x2="256.7" y2="201.5" stroke="#111" stroke-width="1.0" />
<line x1="263.6" y1="189.5" x2="263.6" y2="196.5" stroke="#111" stroke-width="0.95" />
<line x1="261.1" y1="189.5" x2="266.1" y2="189.5" stroke="#111" stroke-width="1.0" />
<line x1="261.1" y1="196.5" x2="266.1" y2="196.5" stroke="#111" stroke-width="1.0" />
<line x1="273" y1="187.5" x2="273" y2="195.5" stroke="#111" stroke-width="0.95" />
<line x1="270.5" y1="187.5" x2="275.5" y2="187.5" stroke="#111" stroke-width="1.0" />
<line x1="270.5" y1="195.5" x2="275.5" y2="195.5" stroke="#111" stroke-width="1.0" />
<line x1="282.3" y1="188.5" x2="282.3" y2="197.5" stroke="#111" stroke-width="0.95" />
<line x1="279.8" y1="188.5" x2="284.8" y2="188.5" stroke="#111" stroke-width="1.0" />
<line x1="279.8" y1="197.5" x2="284.8" y2="197.5" stroke="#111" stroke-width="1.0" />
<line x1="291.8" y1="186.5" x2="291.8" y2="195.5" stroke="#111" stroke-width="0.95" />
<line x1="289.3" y1="186.5" x2="294.3" y2="186.5" stroke="#111" stroke-width="1.0" />
<line x1="289.3" y1="195.5" x2="294.3" y2="195.5" stroke="#111" stroke-width="1.0" />
<line x1="301" y1="186.5" x2="301" y2="195.5" stroke="#111" stroke-width="0.95" />
<line x1="298.5" y1="186.5" x2="303.5" y2="186.5" stroke="#111" stroke-width="1.0" />
<line x1="298.5" y1="195.5" x2="303.5" y2="195.5" stroke="#111" stroke-width="1.0" />
<line x1="310.4" y1="186.5" x2="310.4" y2="195.5" stroke="#111" stroke-width="0.95" />
<line x1="307.9" y1="186.5" x2="312.9" y2="186.5" stroke="#111" stroke-width="1.0" />
<line x1="307.9" y1="195.5" x2="312.9" y2="195.5" stroke="#111" stroke-width="1.0" />
<line x1="319.9" y1="186.5" x2="319.9" y2="195.5" stroke="#111" stroke-width="0.95" />
<line x1="317.4" y1="186.5" x2="322.4" y2="186.5" stroke="#111" stroke-width="1.0" />
<line x1="317.4" y1="195.5" x2="322.4" y2="195.5" stroke="#111" stroke-width="1.0" />
<line x1="329.1" y1="186.5" x2="329.1" y2="195.5" stroke="#111" stroke-width="0.95" />
<line x1="326.6" y1="186.5" x2="331.6" y2="186.5" stroke="#111" stroke-width="1.0" />
<line x1="326.6" y1="195.5" x2="331.6" y2="195.5" stroke="#111" stroke-width="1.0" />
<rect x="223.2" y="218.2" width="4.8" height="4.8" rx="0" fill="#33558f" stroke="#101010" stroke-width="1.25"/>
<rect x="232.9" y="208.9" width="4.8" height="4.8" rx="0" fill="#33558f" stroke="#101010" stroke-width="1.25"/>
<rect x="242" y="202.1" width="4.8" height="4.8" rx="0" fill="#33558f" stroke="#101010" stroke-width="1.25"/>
<rect x="251.8" y="194.3" width="4.8" height="4.8" rx="0" fill="#33558f" stroke="#101010" stroke-width="1.25"/>
<rect x="261.2" y="190.8" width="4.8" height="4.8" rx="0" fill="#33558f" stroke="#101010" stroke-width="1.25"/>
<rect x="270.6" y="189.3" width="4.8" height="4.8" rx="0" fill="#33558f" stroke="#101010" stroke-width="1.25"/>
<rect x="279.9" y="190.1" width="4.8" height="4.8" rx="0" fill="#33558f" stroke="#101010" stroke-width="1.25"/>
<rect x="289.4" y="188.8" width="4.8" height="4.8" rx="0" fill="#33558f" stroke="#101010" stroke-width="1.25"/>
<rect x="298.6" y="188.5" width="4.8" height="4.8" rx="0" fill="#33558f" stroke="#101010" stroke-width="1.25"/>
<rect x="308" y="188.5" width="4.8" height="4.8" rx="0" fill="#33558f" stroke="#101010" stroke-width="1.25"/>
<rect x="317.5" y="188.5" width="4.8" height="4.8" rx="0" fill="#33558f" stroke="#101010" stroke-width="1.25"/>
<rect x="326.7" y="188.5" width="4.8" height="4.8" rx="0" fill="#33558f" stroke="#101010" stroke-width="1.25"/>
<polyline points="226,237.7 235.3,227.9 244.4,225.7 254.1,227.9 263.6,212.8 273,216.5 282.3,224.8 291.5,226.3 301,217.2 310.4,224.3 320.1,227.2 329.3,225.7" fill="none" stroke="#b80f3a" stroke-width="1.3" stroke-linejoin="round"/>
<line x1="226" y1="234.5" x2="226" y2="240.5" stroke="#111" stroke-width="0.95" />
<line x1="223.5" y1="234.5" x2="228.5" y2="234.5" stroke="#111" stroke-width="1.0" />
<line x1="223.5" y1="240.5" x2="228.5" y2="240.5" stroke="#111" stroke-width="1.0" />
<line x1="235.3" y1="224.5" x2="235.3" y2="230.5" stroke="#111" stroke-width="0.95" />
<line x1="232.8" y1="224.5" x2="237.8" y2="224.5" stroke="#111" stroke-width="1.0" />
<line x1="232.8" y1="230.5" x2="237.8" y2="230.5" stroke="#111" stroke-width="1.0" />
<line x1="244.4" y1="221.5" x2="244.4" y2="230.5" stroke="#111" stroke-width="0.95" />
<line x1="241.9" y1="221.5" x2="246.9" y2="221.5" stroke="#111" stroke-width="1.0" />
<line x1="241.9" y1="230.5" x2="246.9" y2="230.5" stroke="#111" stroke-width="1.0" />
<line x1="254.1" y1="224.5" x2="254.1" y2="231.5" stroke="#111" stroke-width="0.95" />
<line x1="251.6" y1="224.5" x2="256.6" y2="224.5" stroke="#111" stroke-width="1.0" />
<line x1="251.6" y1="231.5" x2="256.6" y2="231.5" stroke="#111" stroke-width="1.0" />
<line x1="263.6" y1="208.5" x2="263.6" y2="217.5" stroke="#111" stroke-width="0.95" />
<line x1="261.1" y1="208.5" x2="266.1" y2="208.5" stroke="#111" stroke-width="1.0" />
<line x1="261.1" y1="217.5" x2="266.1" y2="217.5" stroke="#111" stroke-width="1.0" />
<line x1="273" y1="209.5" x2="273" y2="223.5" stroke="#111" stroke-width="0.95" />
<line x1="270.5" y1="209.5" x2="275.5" y2="209.5" stroke="#111" stroke-width="1.0" />
<line x1="270.5" y1="223.5" x2="275.5" y2="223.5" stroke="#111" stroke-width="1.0" />
<line x1="282.3" y1="219.5" x2="282.3" y2="230.5" stroke="#111" stroke-width="0.95" />
<line x1="279.8" y1="219.5" x2="284.8" y2="219.5" stroke="#111" stroke-width="1.0" />
<line x1="279.8" y1="230.5" x2="284.8" y2="230.5" stroke="#111" stroke-width="1.0" />
<line x1="291.5" y1="221.5" x2="291.5" y2="232.5" stroke="#111" stroke-width="0.95" />
<line x1="289" y1="221.5" x2="294" y2="221.5" stroke="#111" stroke-width="1.0" />
<line x1="289" y1="232.5" x2="294" y2="232.5" stroke="#111" stroke-width="1.0" />
<line x1="301" y1="209.5" x2="301" y2="224.5" stroke="#111" stroke-width="0.95" />
<line x1="298.5" y1="209.5" x2="303.5" y2="209.5" stroke="#111" stroke-width="1.0" />
<line x1="298.5" y1="224.5" x2="303.5" y2="224.5" stroke="#111" stroke-width="1.0" />
<line x1="310.4" y1="219.5" x2="310.4" y2="229.5" stroke="#111" stroke-width="0.95" />
<line x1="307.9" y1="219.5" x2="312.9" y2="219.5" stroke="#111" stroke-width="1.0" />
<line x1="307.9" y1="229.5" x2="312.9" y2="229.5" stroke="#111" stroke-width="1.0" />
<line x1="320.1" y1="222.5" x2="320.1" y2="231.5" stroke="#111" stroke-width="0.95" />
<line x1="317.6" y1="222.5" x2="322.6" y2="222.5" stroke="#111" stroke-width="1.0" />
<line x1="317.6" y1="231.5" x2="322.6" y2="231.5" stroke="#111" stroke-width="1.0" />
<line x1="329.3" y1="220.5" x2="329.3" y2="231.5" stroke="#111" stroke-width="0.95" />
<line x1="326.8" y1="220.5" x2="331.8" y2="220.5" stroke="#111" stroke-width="1.0" />
<line x1="326.8" y1="231.5" x2="331.8" y2="231.5" stroke="#111" stroke-width="1.0" />
<path d="M226,235.15 L228.55,237.7 L226,240.25 L223.45,237.7 Z" fill="#c80632" stroke="#101010" stroke-width="1.1"/>
<path d="M235.3,225.35 L237.85,227.9 L235.3,230.45 L232.75,227.9 Z" fill="#c80632" stroke="#101010" stroke-width="1.1"/>
<path d="M244.4,223.15 L246.95,225.7 L244.4,228.25 L241.85,225.7 Z" fill="#c80632" stroke="#101010" stroke-width="1.1"/>
<path d="M254.1,225.35 L256.65,227.9 L254.1,230.45 L251.55,227.9 Z" fill="#c80632" stroke="#101010" stroke-width="1.1"/>
<path d="M263.6,210.25 L266.15,212.8 L263.6,215.35 L261.05,212.8 Z" fill="#c80632" stroke="#101010" stroke-width="1.1"/>
<path d="M273,213.95 L275.55,216.5 L273,219.05 L270.45,216.5 Z" fill="#c80632" stroke="#101010" stroke-width="1.1"/>
<path d="M282.3,222.25 L284.85,224.8 L282.3,227.35 L279.75,224.8 Z" fill="#c80632" stroke="#101010" stroke-width="1.1"/>
<path d="M291.5,223.75 L294.05,226.3 L291.5,228.85 L288.95,226.3 Z" fill="#c80632" stroke="#101010" stroke-width="1.1"/>
<path d="M301,214.65 L303.55,217.2 L301,219.75 L298.45,217.2 Z" fill="#c80632" stroke="#101010" stroke-width="1.1"/>
<path d="M310.4,221.75 L312.95,224.3 L310.4,226.85 L307.85,224.3 Z" fill="#c80632" stroke="#101010" stroke-width="1.1"/>
<path d="M320.1,224.65 L322.65,227.2 L320.1,229.75 L317.55,227.2 Z" fill="#c80632" stroke="#101010" stroke-width="1.1"/>
<path d="M329.3,223.15 L331.85,225.7 L329.3,228.25 L326.75,225.7 Z" fill="#c80632" stroke="#101010" stroke-width="1.1"/>
<line x1="329.3" y1="199.9" x2="329.3" y2="214.6" stroke="#222" stroke-width="1.0" />
<circle cx="319.4" cy="206.7" r="1.1" fill="#222"/>
<circle cx="322.3" cy="206.7" r="1.1" fill="#222"/>
<circle cx="325.2" cy="206.7" r="1.1" fill="#222"/>
<text x="355" y="17" font-size="10.8" text-anchor="start" fill="#111" >C</text>
<line x1="386" y1="56.5" x2="512.8" y2="56.5" stroke="#888" stroke-width="0.8" stroke-dasharray="1.6,1.2"/>
<line x1="385.9" y1="19.8" x2="385.9" y2="108" stroke="#111" stroke-width="1.35" />
<line x1="382.8" y1="107.5" x2="512.6" y2="107.5" stroke="#111" stroke-width="1.1" />
<line x1="382.8" y1="22.4" x2="385.9" y2="22.4" stroke="#111" stroke-width="1.0" />
<text x="380.6" y="25" font-size="7.6" text-anchor="end" fill="#1a1a1a" stroke="#1a1a1a" stroke-width="0.12">20</text>
<line x1="382.8" y1="39.45" x2="385.9" y2="39.45" stroke="#111" stroke-width="1.0" />
<text x="380.6" y="42.05" font-size="7.6" text-anchor="end" fill="#1a1a1a" stroke="#1a1a1a" stroke-width="0.12">10</text>
<line x1="382.8" y1="56.5" x2="385.9" y2="56.5" stroke="#111" stroke-width="1.0" />
<text x="380.6" y="59.1" font-size="7.6" text-anchor="end" fill="#1a1a1a" stroke="#1a1a1a" stroke-width="0.12">0</text>
<line x1="382.8" y1="73.55" x2="385.9" y2="73.55" stroke="#111" stroke-width="1.0" />
<text x="380.6" y="76.15" font-size="7.6" text-anchor="end" fill="#1a1a1a" stroke="#1a1a1a" stroke-width="0.12">-10</text>
<line x1="382.8" y1="90.6" x2="385.9" y2="90.6" stroke="#111" stroke-width="1.0" />
<text x="380.6" y="93.2" font-size="7.6" text-anchor="end" fill="#1a1a1a" stroke="#1a1a1a" stroke-width="0.12">-20</text>
<line x1="382.8" y1="107.65" x2="385.9" y2="107.65" stroke="#111" stroke-width="1.0" />
<text x="380.6" y="110.25" font-size="7.6" text-anchor="end" fill="#1a1a1a" stroke="#1a1a1a" stroke-width="0.12">-30</text>
<line x1="390.5" y1="107.5" x2="390.5" y2="110.5" stroke="#111" stroke-width="1.0" />
<text x="0" y="0" transform="translate(396.2,115) rotate(-45)" font-size="7.0" text-anchor="end" fill="#1a1a1a" stroke="#1a1a1a" stroke-width="0.12" dy="2.6">0</text>
<line x1="399.9" y1="107.5" x2="399.9" y2="110.5" stroke="#111" stroke-width="1.0" />
<text x="0" y="0" transform="translate(405.29,115) rotate(-45)" font-size="7.0" text-anchor="end" fill="#1a1a1a" stroke="#1a1a1a" stroke-width="0.12" dy="2.6">1</text>
<line x1="409.3" y1="107.5" x2="409.3" y2="110.5" stroke="#111" stroke-width="1.0" />
<text x="0" y="0" transform="translate(414.38,115) rotate(-45)" font-size="7.0" text-anchor="end" fill="#1a1a1a" stroke="#1a1a1a" stroke-width="0.12" dy="2.6">2</text>
<line x1="418.7" y1="107.5" x2="418.7" y2="110.5" stroke="#111" stroke-width="1.0" />
<text x="0" y="0" transform="translate(423.47,115) rotate(-45)" font-size="7.0" text-anchor="end" fill="#1a1a1a" stroke="#1a1a1a" stroke-width="0.12" dy="2.6">3</text>
<line x1="428.1" y1="107.5" x2="428.1" y2="110.5" stroke="#111" stroke-width="1.0" />
<text x="0" y="0" transform="translate(432.56,115) rotate(-45)" font-size="7.0" text-anchor="end" fill="#1a1a1a" stroke="#1a1a1a" stroke-width="0.12" dy="2.6">4</text>
<line x1="437.5" y1="107.5" x2="437.5" y2="110.5" stroke="#111" stroke-width="1.0" />
<text x="0" y="0" transform="translate(441.65,115) rotate(-45)" font-size="7.0" text-anchor="end" fill="#1a1a1a" stroke="#1a1a1a" stroke-width="0.12" dy="2.6">5</text>
<line x1="446.9" y1="107.5" x2="446.9" y2="110.5" stroke="#111" stroke-width="1.0" />
<text x="0" y="0" transform="translate(450.74,115) rotate(-45)" font-size="7.0" text-anchor="end" fill="#1a1a1a" stroke="#1a1a1a" stroke-width="0.12" dy="2.6">6</text>
<line x1="456.3" y1="107.5" x2="456.3" y2="110.5" stroke="#111" stroke-width="1.0" />
<text x="0" y="0" transform="translate(459.83,115) rotate(-45)" font-size="7.0" text-anchor="end" fill="#1a1a1a" stroke="#1a1a1a" stroke-width="0.12" dy="2.6">7</text>
<line x1="465.7" y1="107.5" x2="465.7" y2="110.5" stroke="#111" stroke-width="1.0" />
<text x="0" y="0" transform="translate(468.92,115) rotate(-45)" font-size="7.0" text-anchor="end" fill="#1a1a1a" stroke="#1a1a1a" stroke-width="0.12" dy="2.6">8</text>
<line x1="475.1" y1="107.5" x2="475.1" y2="110.5" stroke="#111" stroke-width="1.0" />
<text x="0" y="0" transform="translate(478.01,115) rotate(-45)" font-size="7.0" text-anchor="end" fill="#1a1a1a" stroke="#1a1a1a" stroke-width="0.12" dy="2.6">9</text>
<line x1="484.5" y1="107.5" x2="484.5" y2="110.5" stroke="#111" stroke-width="1.0" />
<text x="0" y="0" transform="translate(487.1,115) rotate(-45)" font-size="7.0" text-anchor="end" fill="#1a1a1a" stroke="#1a1a1a" stroke-width="0.12" dy="2.6">10</text>
<line x1="493.9" y1="107.5" x2="493.9" y2="110.5" stroke="#111" stroke-width="1.0" />
<text x="0" y="0" transform="translate(496.19,115) rotate(-45)" font-size="7.0" text-anchor="end" fill="#1a1a1a" stroke="#1a1a1a" stroke-width="0.12" dy="2.6">11</text>
<line x1="503.3" y1="107.5" x2="503.3" y2="110.5" stroke="#111" stroke-width="1.0" />
<text x="0" y="0" transform="translate(505.28,115) rotate(-45)" font-size="7.0" text-anchor="end" fill="#1a1a1a" stroke="#1a1a1a" stroke-width="0.12" dy="2.6">12</text>
<text x="0" y="0" transform="translate(361.8,103.3) rotate(-90)" font-size="9.4" fill="#1a1a1a" stroke="#1a1a1a" stroke-width="0.28" textLength="76.3" lengthAdjust="spacingAndGlyphs">Weight change (%)</text>
<text x="416.3" y="133.8" font-size="9.4" fill="#1a1a1a" stroke="#1a1a1a" stroke-width="0.28" textLength="66" lengthAdjust="spacingAndGlyphs">Weeks after HCT</text>
<line x1="456.4" y1="40.5" x2="456.4" y2="47.5" stroke="#111" stroke-width="0.95" />
<line x1="453.9" y1="40.5" x2="458.9" y2="40.5" stroke="#111" stroke-width="1.0" />
<line x1="453.9" y1="47.5" x2="458.9" y2="47.5" stroke="#111" stroke-width="1.0" />
<line x1="465.8" y1="34.5" x2="465.8" y2="45.5" stroke="#111" stroke-width="0.95" />
<line x1="463.3" y1="34.5" x2="468.3" y2="34.5" stroke="#111" stroke-width="1.0" />
<line x1="463.3" y1="45.5" x2="468.3" y2="45.5" stroke="#111" stroke-width="1.0" />
<line x1="475.2" y1="34.5" x2="475.2" y2="48.5" stroke="#111" stroke-width="0.95" />
<line x1="472.7" y1="34.5" x2="477.7" y2="34.5" stroke="#111" stroke-width="1.0" />
<line x1="472.7" y1="48.5" x2="477.7" y2="48.5" stroke="#111" stroke-width="1.0" />
<line x1="484.5" y1="36.5" x2="484.5" y2="49.5" stroke="#111" stroke-width="0.95" />
<line x1="482" y1="36.5" x2="487" y2="36.5" stroke="#111" stroke-width="1.0" />
<line x1="482" y1="49.5" x2="487" y2="49.5" stroke="#111" stroke-width="1.0" />
<line x1="494" y1="37.5" x2="494" y2="50.5" stroke="#111" stroke-width="0.95" />
<line x1="491.5" y1="37.5" x2="496.5" y2="37.5" stroke="#111" stroke-width="1.0" />
<line x1="491.5" y1="50.5" x2="496.5" y2="50.5" stroke="#111" stroke-width="1.0" />
<line x1="503.5" y1="37.5" x2="503.5" y2="50.5" stroke="#111" stroke-width="0.95" />
<line x1="501" y1="37.5" x2="506" y2="37.5" stroke="#111" stroke-width="1.0" />
<line x1="501" y1="50.5" x2="506" y2="50.5" stroke="#111" stroke-width="1.0" />
<circle cx="399.9" cy="53.9" r="2.7" fill="#fff" stroke="#6cb33f" stroke-width="1.0"/>
<circle cx="409.2" cy="42.7" r="2.7" fill="#fff" stroke="#6cb33f" stroke-width="1.0"/>
<circle cx="418.6" cy="42" r="2.7" fill="#fff" stroke="#6cb33f" stroke-width="1.0"/>
<circle cx="428" cy="41.2" r="2.7" fill="#fff" stroke="#6cb33f" stroke-width="1.0"/>
<circle cx="437.5" cy="43" r="2.7" fill="#fff" stroke="#6cb33f" stroke-width="1.0"/>
<circle cx="446.9" cy="46.2" r="2.7" fill="#fff" stroke="#6cb33f" stroke-width="1.0"/>
<circle cx="456.4" cy="43.5" r="2.7" fill="#fff" stroke="#6cb33f" stroke-width="1.0"/>
<circle cx="465.8" cy="39.9" r="2.7" fill="#fff" stroke="#6cb33f" stroke-width="1.0"/>
<circle cx="475.2" cy="41.4" r="2.7" fill="#fff" stroke="#6cb33f" stroke-width="1.0"/>
<circle cx="484.5" cy="42.9" r="2.7" fill="#fff" stroke="#6cb33f" stroke-width="1.0"/>
<circle cx="494" cy="43.9" r="2.7" fill="#fff" stroke="#6cb33f" stroke-width="1.0"/>
<circle cx="503.5" cy="44.2" r="2.7" fill="#fff" stroke="#6cb33f" stroke-width="1.0"/>
<polyline points="399.9,53.9 409.2,42.7 418.6,42 428,41.2 437.5,43 446.9,46.2 456.4,43.5 465.8,39.9 475.2,41.4 484.5,42.9 494,43.9 503.5,44.2" fill="none" stroke="#6cb33f" stroke-width="1.35" stroke-linejoin="round"/>
<polyline points="399.8,83.7 409.2,75.3 418.6,76.8 428,85.5 437.5,86.8 446.8,85.4 456.3,84.4 465.9,85.8 475,83.3 484.5,83.3 494,81.6 503.5,81.4" fill="none" stroke="#24478a" stroke-width="1.35" stroke-linejoin="round"/>
<line x1="399.8" y1="80.5" x2="399.8" y2="86.5" stroke="#111" stroke-width="0.95" />
<line x1="397.3" y1="80.5" x2="402.3" y2="80.5" stroke="#111" stroke-width="1.0" />
<line x1="397.3" y1="86.5" x2="402.3" y2="86.5" stroke="#111" stroke-width="1.0" />
<line x1="409.2" y1="72.5" x2="409.2" y2="78.5" stroke="#111" stroke-width="0.95" />
<line x1="406.7" y1="72.5" x2="411.7" y2="72.5" stroke="#111" stroke-width="1.0" />
<line x1="406.7" y1="78.5" x2="411.7" y2="78.5" stroke="#111" stroke-width="1.0" />
<line x1="475" y1="80.5" x2="475" y2="86.5" stroke="#111" stroke-width="0.95" />
<line x1="472.5" y1="80.5" x2="477.5" y2="80.5" stroke="#111" stroke-width="1.0" />
<line x1="472.5" y1="86.5" x2="477.5" y2="86.5" stroke="#111" stroke-width="1.0" />
<line x1="484.5" y1="79.5" x2="484.5" y2="87.5" stroke="#111" stroke-width="0.95" />
<line x1="482" y1="79.5" x2="487" y2="79.5" stroke="#111" stroke-width="1.0" />
<line x1="482" y1="87.5" x2="487" y2="87.5" stroke="#111" stroke-width="1.0" />
<line x1="494" y1="77.5" x2="494" y2="85.5" stroke="#111" stroke-width="0.95" />
<line x1="491.5" y1="77.5" x2="496.5" y2="77.5" stroke="#111" stroke-width="1.0" />
<line x1="491.5" y1="85.5" x2="496.5" y2="85.5" stroke="#111" stroke-width="1.0" />
<line x1="503.5" y1="77.5" x2="503.5" y2="85.5" stroke="#111" stroke-width="0.95" />
<line x1="501" y1="77.5" x2="506" y2="77.5" stroke="#111" stroke-width="1.0" />
<line x1="501" y1="85.5" x2="506" y2="85.5" stroke="#111" stroke-width="1.0" />
<rect x="397.4" y="81.3" width="4.8" height="4.8" rx="0" fill="#33558f" stroke="#101010" stroke-width="1.25"/>
<rect x="406.8" y="72.9" width="4.8" height="4.8" rx="0" fill="#33558f" stroke="#101010" stroke-width="1.25"/>
<rect x="416.2" y="74.4" width="4.8" height="4.8" rx="0" fill="#33558f" stroke="#101010" stroke-width="1.25"/>
<rect x="425.6" y="83.1" width="4.8" height="4.8" rx="0" fill="#33558f" stroke="#101010" stroke-width="1.25"/>
<rect x="435.1" y="84.4" width="4.8" height="4.8" rx="0" fill="#33558f" stroke="#101010" stroke-width="1.25"/>
<rect x="444.4" y="83" width="4.8" height="4.8" rx="0" fill="#33558f" stroke="#101010" stroke-width="1.25"/>
<rect x="453.9" y="82" width="4.8" height="4.8" rx="0" fill="#33558f" stroke="#101010" stroke-width="1.25"/>
<rect x="463.5" y="83.4" width="4.8" height="4.8" rx="0" fill="#33558f" stroke="#101010" stroke-width="1.25"/>
<rect x="472.6" y="80.9" width="4.8" height="4.8" rx="0" fill="#33558f" stroke="#101010" stroke-width="1.25"/>
<rect x="482.1" y="80.9" width="4.8" height="4.8" rx="0" fill="#33558f" stroke="#101010" stroke-width="1.25"/>
<rect x="491.6" y="79.2" width="4.8" height="4.8" rx="0" fill="#33558f" stroke="#101010" stroke-width="1.25"/>
<rect x="501.1" y="79" width="4.8" height="4.8" rx="0" fill="#33558f" stroke="#101010" stroke-width="1.25"/>
<polyline points="399.8,78.7 409.2,65.6 418.6,65.6 428,74.6 437.5,73.9 446.9,73.4 456.4,67.7 465.7,63.2 475.2,60.5 484.5,61.8 494,61.6 503.5,60.4" fill="none" stroke="#b80f3a" stroke-width="1.3" stroke-linejoin="round"/>
<line x1="399.8" y1="74.5" x2="399.8" y2="82.5" stroke="#111" stroke-width="0.95" />
<line x1="397.3" y1="74.5" x2="402.3" y2="74.5" stroke="#111" stroke-width="1.0" />
<line x1="397.3" y1="82.5" x2="402.3" y2="82.5" stroke="#111" stroke-width="1.0" />
<line x1="428" y1="71.5" x2="428" y2="77.5" stroke="#111" stroke-width="0.95" />
<line x1="425.5" y1="71.5" x2="430.5" y2="71.5" stroke="#111" stroke-width="1.0" />
<line x1="425.5" y1="77.5" x2="430.5" y2="77.5" stroke="#111" stroke-width="1.0" />
<line x1="437.5" y1="70.5" x2="437.5" y2="76.5" stroke="#111" stroke-width="0.95" />
<line x1="435" y1="70.5" x2="440" y2="70.5" stroke="#111" stroke-width="1.0" />
<line x1="435" y1="76.5" x2="440" y2="76.5" stroke="#111" stroke-width="1.0" />
<line x1="446.9" y1="70.5" x2="446.9" y2="76.5" stroke="#111" stroke-width="0.95" />
<line x1="444.4" y1="70.5" x2="449.4" y2="70.5" stroke="#111" stroke-width="1.0" />
<line x1="444.4" y1="76.5" x2="449.4" y2="76.5" stroke="#111" stroke-width="1.0" />
<line x1="456.4" y1="63.5" x2="456.4" y2="71.5" stroke="#111" stroke-width="0.95" />
<line x1="453.9" y1="63.5" x2="458.9" y2="63.5" stroke="#111" stroke-width="1.0" />
<line x1="453.9" y1="71.5" x2="458.9" y2="71.5" stroke="#111" stroke-width="1.0" />
<line x1="465.7" y1="59.5" x2="465.7" y2="67.5" stroke="#111" stroke-width="0.95" />
<line x1="463.2" y1="59.5" x2="468.2" y2="59.5" stroke="#111" stroke-width="1.0" />
<line x1="463.2" y1="67.5" x2="468.2" y2="67.5" stroke="#111" stroke-width="1.0" />
<line x1="475.2" y1="56.5" x2="475.2" y2="64.5" stroke="#111" stroke-width="0.95" />
<line x1="472.7" y1="56.5" x2="477.7" y2="56.5" stroke="#111" stroke-width="1.0" />
<line x1="472.7" y1="64.5" x2="477.7" y2="64.5" stroke="#111" stroke-width="1.0" />
<line x1="484.5" y1="57.5" x2="484.5" y2="65.5" stroke="#111" stroke-width="0.95" />
<line x1="482" y1="57.5" x2="487" y2="57.5" stroke="#111" stroke-width="1.0" />
<line x1="482" y1="65.5" x2="487" y2="65.5" stroke="#111" stroke-width="1.0" />
<line x1="494" y1="57.5" x2="494" y2="65.5" stroke="#111" stroke-width="0.95" />
<line x1="491.5" y1="57.5" x2="496.5" y2="57.5" stroke="#111" stroke-width="1.0" />
<line x1="491.5" y1="65.5" x2="496.5" y2="65.5" stroke="#111" stroke-width="1.0" />
<line x1="503.5" y1="56.5" x2="503.5" y2="64.5" stroke="#111" stroke-width="0.95" />
<line x1="501" y1="56.5" x2="506" y2="56.5" stroke="#111" stroke-width="1.0" />
<line x1="501" y1="64.5" x2="506" y2="64.5" stroke="#111" stroke-width="1.0" />
<path d="M399.8,76.15 L402.35,78.7 L399.8,81.25 L397.25,78.7 Z" fill="#c80632" stroke="#101010" stroke-width="1.1"/>
<path d="M409.2,63.05 L411.75,65.6 L409.2,68.15 L406.65,65.6 Z" fill="#c80632" stroke="#101010" stroke-width="1.1"/>
<path d="M418.6,63.05 L421.15,65.6 L418.6,68.15 L416.05,65.6 Z" fill="#c80632" stroke="#101010" stroke-width="1.1"/>
<path d="M428,72.05 L430.55,74.6 L428,77.15 L425.45,74.6 Z" fill="#c80632" stroke="#101010" stroke-width="1.1"/>
<path d="M437.5,71.35 L440.05,73.9 L437.5,76.45 L434.95,73.9 Z" fill="#c80632" stroke="#101010" stroke-width="1.1"/>
<path d="M446.9,70.85 L449.45,73.4 L446.9,75.95 L444.35,73.4 Z" fill="#c80632" stroke="#101010" stroke-width="1.1"/>
<path d="M456.4,65.15 L458.95,67.7 L456.4,70.25 L453.85,67.7 Z" fill="#c80632" stroke="#101010" stroke-width="1.1"/>
<path d="M465.7,60.65 L468.25,63.2 L465.7,65.75 L463.15,63.2 Z" fill="#c80632" stroke="#101010" stroke-width="1.1"/>
<path d="M475.2,57.95 L477.75,60.5 L475.2,63.05 L472.65,60.5 Z" fill="#c80632" stroke="#101010" stroke-width="1.1"/>
<path d="M484.5,59.25 L487.05,61.8 L484.5,64.35 L481.95,61.8 Z" fill="#c80632" stroke="#101010" stroke-width="1.1"/>
<path d="M494,59.05 L496.55,61.6 L494,64.15 L491.45,61.6 Z" fill="#c80632" stroke="#101010" stroke-width="1.1"/>
<path d="M503.5,57.85 L506.05,60.4 L503.5,62.95 L500.95,60.4 Z" fill="#c80632" stroke="#101010" stroke-width="1.1"/>
<line x1="509" y1="63" x2="509" y2="79.6" stroke="#222" stroke-width="1.1" />
<circle cx="498.4" cy="70.9" r="1.1" fill="#222"/>
<circle cx="501.3" cy="70.9" r="1.1" fill="#222"/>
<circle cx="504.2" cy="70.9" r="1.1" fill="#222"/>
<text x="356" y="161.4" font-size="10.8" text-anchor="start" fill="#111" >F</text>
<line x1="386" y1="201.4" x2="512.8" y2="201.4" stroke="#888" stroke-width="0.8" stroke-dasharray="1.6,1.2"/>
<line x1="385.9" y1="164.8" x2="385.9" y2="253" stroke="#111" stroke-width="1.35" />
<line x1="382.8" y1="252.5" x2="512.6" y2="252.5" stroke="#111" stroke-width="1.1" />
<line x1="382.8" y1="167.5" x2="385.9" y2="167.5" stroke="#111" stroke-width="1.0" />
<text x="380.6" y="170.1" font-size="7.6" text-anchor="end" fill="#1a1a1a" stroke="#1a1a1a" stroke-width="0.12">20</text>
<line x1="382.8" y1="184.55" x2="385.9" y2="184.55" stroke="#111" stroke-width="1.0" />
<text x="380.6" y="187.15" font-size="7.6" text-anchor="end" fill="#1a1a1a" stroke="#1a1a1a" stroke-width="0.12">10</text>
<line x1="382.8" y1="201.6" x2="385.9" y2="201.6" stroke="#111" stroke-width="1.0" />
<text x="380.6" y="204.2" font-size="7.6" text-anchor="end" fill="#1a1a1a" stroke="#1a1a1a" stroke-width="0.12">0</text>
<line x1="382.8" y1="218.65" x2="385.9" y2="218.65" stroke="#111" stroke-width="1.0" />
<text x="380.6" y="221.25" font-size="7.6" text-anchor="end" fill="#1a1a1a" stroke="#1a1a1a" stroke-width="0.12">-10</text>
<line x1="382.8" y1="235.7" x2="385.9" y2="235.7" stroke="#111" stroke-width="1.0" />
<text x="380.6" y="238.3" font-size="7.6" text-anchor="end" fill="#1a1a1a" stroke="#1a1a1a" stroke-width="0.12">-20</text>
<line x1="382.8" y1="252.75" x2="385.9" y2="252.75" stroke="#111" stroke-width="1.0" />
<text x="380.6" y="255.35" font-size="7.6" text-anchor="end" fill="#1a1a1a" stroke="#1a1a1a" stroke-width="0.12">-30</text>
<line x1="390.4" y1="252.5" x2="390.4" y2="255.5" stroke="#111" stroke-width="1.0" />
<text x="0" y="0" transform="translate(392.2,260) rotate(-45)" font-size="7.0" text-anchor="end" fill="#1a1a1a" stroke="#1a1a1a" stroke-width="0.12" dy="2.6">0</text>
<line x1="399.8" y1="252.5" x2="399.8" y2="255.5" stroke="#111" stroke-width="1.0" />
<text x="0" y="0" transform="translate(401.6,260) rotate(-45)" font-size="7.0" text-anchor="end" fill="#1a1a1a" stroke="#1a1a1a" stroke-width="0.12" dy="2.6">1</text>
<line x1="409.2" y1="252.5" x2="409.2" y2="255.5" stroke="#111" stroke-width="1.0" />
<text x="0" y="0" transform="translate(411,260) rotate(-45)" font-size="7.0" text-anchor="end" fill="#1a1a1a" stroke="#1a1a1a" stroke-width="0.12" dy="2.6">2</text>
<line x1="418.6" y1="252.5" x2="418.6" y2="255.5" stroke="#111" stroke-width="1.0" />
<text x="0" y="0" transform="translate(420.4,260) rotate(-45)" font-size="7.0" text-anchor="end" fill="#1a1a1a" stroke="#1a1a1a" stroke-width="0.12" dy="2.6">3</text>
<line x1="428" y1="252.5" x2="428" y2="255.5" stroke="#111" stroke-width="1.0" />
<text x="0" y="0" transform="translate(429.8,260) rotate(-45)" font-size="7.0" text-anchor="end" fill="#1a1a1a" stroke="#1a1a1a" stroke-width="0.12" dy="2.6">4</text>
<line x1="437.4" y1="252.5" x2="437.4" y2="255.5" stroke="#111" stroke-width="1.0" />
<text x="0" y="0" transform="translate(439.2,260) rotate(-45)" font-size="7.0" text-anchor="end" fill="#1a1a1a" stroke="#1a1a1a" stroke-width="0.12" dy="2.6">5</text>
<line x1="446.8" y1="252.5" x2="446.8" y2="255.5" stroke="#111" stroke-width="1.0" />
<text x="0" y="0" transform="translate(448.6,260) rotate(-45)" font-size="7.0" text-anchor="end" fill="#1a1a1a" stroke="#1a1a1a" stroke-width="0.12" dy="2.6">6</text>
<line x1="456.2" y1="252.5" x2="456.2" y2="255.5" stroke="#111" stroke-width="1.0" />
<text x="0" y="0" transform="translate(458,260) rotate(-45)" font-size="7.0" text-anchor="end" fill="#1a1a1a" stroke="#1a1a1a" stroke-width="0.12" dy="2.6">7</text>
<line x1="465.6" y1="252.5" x2="465.6" y2="255.5" stroke="#111" stroke-width="1.0" />
<text x="0" y="0" transform="translate(467.4,260) rotate(-45)" font-size="7.0" text-anchor="end" fill="#1a1a1a" stroke="#1a1a1a" stroke-width="0.12" dy="2.6">8</text>
<line x1="475" y1="252.5" x2="475" y2="255.5" stroke="#111" stroke-width="1.0" />
<text x="0" y="0" transform="translate(476.8,260) rotate(-45)" font-size="7.0" text-anchor="end" fill="#1a1a1a" stroke="#1a1a1a" stroke-width="0.12" dy="2.6">9</text>
<line x1="484.4" y1="252.5" x2="484.4" y2="255.5" stroke="#111" stroke-width="1.0" />
<text x="0" y="0" transform="translate(486.2,260) rotate(-45)" font-size="7.0" text-anchor="end" fill="#1a1a1a" stroke="#1a1a1a" stroke-width="0.12" dy="2.6">10</text>
<line x1="493.8" y1="252.5" x2="493.8" y2="255.5" stroke="#111" stroke-width="1.0" />
<text x="0" y="0" transform="translate(495.6,260) rotate(-45)" font-size="7.0" text-anchor="end" fill="#1a1a1a" stroke="#1a1a1a" stroke-width="0.12" dy="2.6">11</text>
<line x1="503.2" y1="252.5" x2="503.2" y2="255.5" stroke="#111" stroke-width="1.0" />
<text x="0" y="0" transform="translate(505,260) rotate(-45)" font-size="7.0" text-anchor="end" fill="#1a1a1a" stroke="#1a1a1a" stroke-width="0.12" dy="2.6">12</text>
<text x="0" y="0" transform="translate(362.3,248.3) rotate(-90)" font-size="9.4" fill="#1a1a1a" stroke="#1a1a1a" stroke-width="0.28" textLength="76.4" lengthAdjust="spacingAndGlyphs">Weight change (%)</text>
<text x="416.3" y="279.4" font-size="9.4" fill="#1a1a1a" stroke="#1a1a1a" stroke-width="0.28" textLength="66" lengthAdjust="spacingAndGlyphs">Weeks after HCT</text>
<line x1="399.8" y1="199.5" x2="399.8" y2="207.5" stroke="#111" stroke-width="0.95" />
<line x1="397.3" y1="199.5" x2="402.3" y2="199.5" stroke="#111" stroke-width="1.0" />
<line x1="397.3" y1="207.5" x2="402.3" y2="207.5" stroke="#111" stroke-width="1.0" />
<line x1="409.2" y1="198.5" x2="409.2" y2="202.5" stroke="#111" stroke-width="0.95" />
<line x1="406.7" y1="198.5" x2="411.7" y2="198.5" stroke="#111" stroke-width="1.0" />
<line x1="406.7" y1="202.5" x2="411.7" y2="202.5" stroke="#111" stroke-width="1.0" />
<line x1="418.6" y1="193.5" x2="418.6" y2="201.5" stroke="#111" stroke-width="0.95" />
<line x1="416.1" y1="193.5" x2="421.1" y2="193.5" stroke="#111" stroke-width="1.0" />
<line x1="416.1" y1="201.5" x2="421.1" y2="201.5" stroke="#111" stroke-width="1.0" />
<line x1="428" y1="193.5" x2="428" y2="201.5" stroke="#111" stroke-width="0.95" />
<line x1="425.5" y1="193.5" x2="430.5" y2="193.5" stroke="#111" stroke-width="1.0" />
<line x1="425.5" y1="201.5" x2="430.5" y2="201.5" stroke="#111" stroke-width="1.0" />
<line x1="437.5" y1="191.5" x2="437.5" y2="200.5" stroke="#111" stroke-width="0.95" />
<line x1="435" y1="191.5" x2="440" y2="191.5" stroke="#111" stroke-width="1.0" />
<line x1="435" y1="200.5" x2="440" y2="200.5" stroke="#111" stroke-width="1.0" />
<line x1="446.9" y1="192.5" x2="446.9" y2="200.5" stroke="#111" stroke-width="0.95" />
<line x1="444.4" y1="192.5" x2="449.4" y2="192.5" stroke="#111" stroke-width="1.0" />
<line x1="444.4" y1="200.5" x2="449.4" y2="200.5" stroke="#111" stroke-width="1.0" />
<line x1="456.4" y1="184.5" x2="456.4" y2="194.5" stroke="#111" stroke-width="0.95" />
<line x1="453.9" y1="184.5" x2="458.9" y2="184.5" stroke="#111" stroke-width="1.0" />
<line x1="453.9" y1="194.5" x2="458.9" y2="194.5" stroke="#111" stroke-width="1.0" />
<line x1="465.6" y1="180.5" x2="465.6" y2="195.5" stroke="#111" stroke-width="0.95" />
<line x1="463.1" y1="180.5" x2="468.1" y2="180.5" stroke="#111" stroke-width="1.0" />
<line x1="463.1" y1="195.5" x2="468.1" y2="195.5" stroke="#111" stroke-width="1.0" />
<line x1="475.1" y1="179.5" x2="475.1" y2="194.5" stroke="#111" stroke-width="0.95" />
<line x1="472.6" y1="179.5" x2="477.6" y2="179.5" stroke="#111" stroke-width="1.0" />
<line x1="472.6" y1="194.5" x2="477.6" y2="194.5" stroke="#111" stroke-width="1.0" />
<line x1="484.6" y1="177.5" x2="484.6" y2="193.5" stroke="#111" stroke-width="0.95" />
<line x1="482.1" y1="177.5" x2="487.1" y2="177.5" stroke="#111" stroke-width="1.0" />
<line x1="482.1" y1="193.5" x2="487.1" y2="193.5" stroke="#111" stroke-width="1.0" />
<line x1="493.9" y1="176.5" x2="493.9" y2="191.5" stroke="#111" stroke-width="0.95" />
<line x1="491.4" y1="176.5" x2="496.4" y2="176.5" stroke="#111" stroke-width="1.0" />
<line x1="491.4" y1="191.5" x2="496.4" y2="191.5" stroke="#111" stroke-width="1.0" />
<line x1="503.4" y1="179.5" x2="503.4" y2="195.5" stroke="#111" stroke-width="0.95" />
<line x1="500.9" y1="179.5" x2="505.9" y2="179.5" stroke="#111" stroke-width="1.0" />
<line x1="500.9" y1="195.5" x2="505.9" y2="195.5" stroke="#111" stroke-width="1.0" />
<circle cx="399.8" cy="203.4" r="2.7" fill="#fff" stroke="#6cb33f" stroke-width="1.0"/>
<circle cx="409.2" cy="201" r="2.7" fill="#fff" stroke="#6cb33f" stroke-width="1.0"/>
<circle cx="418.6" cy="197.3" r="2.7" fill="#fff" stroke="#6cb33f" stroke-width="1.0"/>
<circle cx="428" cy="197.3" r="2.7" fill="#fff" stroke="#6cb33f" stroke-width="1.0"/>
<circle cx="437.5" cy="195.6" r="2.7" fill="#fff" stroke="#6cb33f" stroke-width="1.0"/>
<circle cx="446.9" cy="196.6" r="2.7" fill="#fff" stroke="#6cb33f" stroke-width="1.0"/>
<circle cx="456.4" cy="189.3" r="2.7" fill="#fff" stroke="#6cb33f" stroke-width="1.0"/>
<circle cx="465.6" cy="187.9" r="2.7" fill="#fff" stroke="#6cb33f" stroke-width="1.0"/>
<circle cx="475.1" cy="186.9" r="2.7" fill="#fff" stroke="#6cb33f" stroke-width="1.0"/>
<circle cx="484.6" cy="185.7" r="2.7" fill="#fff" stroke="#6cb33f" stroke-width="1.0"/>
<circle cx="493.9" cy="184" r="2.7" fill="#fff" stroke="#6cb33f" stroke-width="1.0"/>
<circle cx="503.4" cy="187.1" r="2.7" fill="#fff" stroke="#6cb33f" stroke-width="1.0"/>
<polyline points="399.8,203.4 409.2,201 418.6,197.3 428,197.3 437.5,195.6 446.9,196.6 456.4,189.3 465.6,187.9 475.1,186.9 484.6,185.7 493.9,184 503.4,187.1" fill="none" stroke="#6cb33f" stroke-width="1.35" stroke-linejoin="round"/>
<polyline points="399.8,221.4 409.2,220.9 418.7,229.3 428.2,234.6 437.4,235.3 446.7,237.1 456.3,238.2 465.7,238.4 475.2,238.4 484.4,238.4 493.7,238.4 503.3,238.4" fill="none" stroke="#24478a" stroke-width="1.35" stroke-linejoin="round"/>
<line x1="409.2" y1="217.5" x2="409.2" y2="224.5" stroke="#111" stroke-width="0.95" />
<line x1="406.7" y1="217.5" x2="411.7" y2="217.5" stroke="#111" stroke-width="1.0" />
<line x1="406.7" y1="224.5" x2="411.7" y2="224.5" stroke="#111" stroke-width="1.0" />
<rect x="397.35" y="218.35" width="4.9" height="6.1" rx="0.7" fill="#33558f" stroke="#101010" stroke-width="1.25"/>
<rect x="406.75" y="217.85" width="4.9" height="6.1" rx="0.7" fill="#33558f" stroke="#101010" stroke-width="1.25"/>
<rect x="416.25" y="226.25" width="4.9" height="6.1" rx="0.7" fill="#33558f" stroke="#101010" stroke-width="1.25"/>
<rect x="425.75" y="231.55" width="4.9" height="6.1" rx="0.7" fill="#33558f" stroke="#101010" stroke-width="1.25"/>
<rect x="434.95" y="232.25" width="4.9" height="6.1" rx="0.7" fill="#33558f" stroke="#101010" stroke-width="1.25"/>
<rect x="444.25" y="234.05" width="4.9" height="6.1" rx="0.7" fill="#33558f" stroke="#101010" stroke-width="1.25"/>
<rect x="453.85" y="235.15" width="4.9" height="6.1" rx="0.7" fill="#33558f" stroke="#101010" stroke-width="1.25"/>
<rect x="463.25" y="235.35" width="4.9" height="6.1" rx="0.7" fill="#33558f" stroke="#101010" stroke-width="1.25"/>
<rect x="472.75" y="235.35" width="4.9" height="6.1" rx="0.7" fill="#33558f" stroke="#101010" stroke-width="1.25"/>
<rect x="481.95" y="235.35" width="4.9" height="6.1" rx="0.7" fill="#33558f" stroke="#101010" stroke-width="1.25"/>
<rect x="491.25" y="235.35" width="4.9" height="6.1" rx="0.7" fill="#33558f" stroke="#101010" stroke-width="1.25"/>
<rect x="500.85" y="235.35" width="4.9" height="6.1" rx="0.7" fill="#33558f" stroke="#101010" stroke-width="1.25"/>
<polyline points="399.8,213.4 409.2,205.6 418.6,214.1 428.1,221 437.5,222.7 446.8,223.5 456.3,223.3 465.7,221.1 475.2,222.8 484.4,223.8 493.7,221.1 503.3,220.9" fill="none" stroke="#b80f3a" stroke-width="1.3" stroke-linejoin="round"/>
<line x1="409.2" y1="200.5" x2="409.2" y2="208.5" stroke="#111" stroke-width="0.95" />
<line x1="406.7" y1="200.5" x2="411.7" y2="200.5" stroke="#111" stroke-width="1.0" />
<line x1="406.7" y1="208.5" x2="411.7" y2="208.5" stroke="#111" stroke-width="1.0" />
<line x1="418.6" y1="210.5" x2="418.6" y2="216.5" stroke="#111" stroke-width="0.95" />
<line x1="416.1" y1="210.5" x2="421.1" y2="210.5" stroke="#111" stroke-width="1.0" />
<line x1="416.1" y1="216.5" x2="421.1" y2="216.5" stroke="#111" stroke-width="1.0" />
<line x1="428.1" y1="217.5" x2="428.1" y2="224.5" stroke="#111" stroke-width="0.95" />
<line x1="425.6" y1="217.5" x2="430.6" y2="217.5" stroke="#111" stroke-width="1.0" />
<line x1="425.6" y1="224.5" x2="430.6" y2="224.5" stroke="#111" stroke-width="1.0" />
<line x1="437.5" y1="218.5" x2="437.5" y2="226.5" stroke="#111" stroke-width="0.95" />
<line x1="435" y1="218.5" x2="440" y2="218.5" stroke="#111" stroke-width="1.0" />
<line x1="435" y1="226.5" x2="440" y2="226.5" stroke="#111" stroke-width="1.0" />
<line x1="446.8" y1="220.5" x2="446.8" y2="227.5" stroke="#111" stroke-width="0.95" />
<line x1="444.3" y1="220.5" x2="449.3" y2="220.5" stroke="#111" stroke-width="1.0" />
<line x1="444.3" y1="227.5" x2="449.3" y2="227.5" stroke="#111" stroke-width="1.0" />
<line x1="456.3" y1="219.5" x2="456.3" y2="227.5" stroke="#111" stroke-width="0.95" />
<line x1="453.8" y1="219.5" x2="458.8" y2="219.5" stroke="#111" stroke-width="1.0" />
<line x1="453.8" y1="227.5" x2="458.8" y2="227.5" stroke="#111" stroke-width="1.0" />
<line x1="465.7" y1="214.5" x2="465.7" y2="227.5" stroke="#111" stroke-width="0.95" />
<line x1="463.2" y1="214.5" x2="468.2" y2="214.5" stroke="#111" stroke-width="1.0" />
<line x1="463.2" y1="227.5" x2="468.2" y2="227.5" stroke="#111" stroke-width="1.0" />
<line x1="475.2" y1="217.5" x2="475.2" y2="227.5" stroke="#111" stroke-width="0.95" />
<line x1="472.7" y1="217.5" x2="477.7" y2="217.5" stroke="#111" stroke-width="1.0" />
<line x1="472.7" y1="227.5" x2="477.7" y2="227.5" stroke="#111" stroke-width="1.0" />
<line x1="484.4" y1="218.5" x2="484.4" y2="228.5" stroke="#111" stroke-width="0.95" />
<line x1="481.9" y1="218.5" x2="486.9" y2="218.5" stroke="#111" stroke-width="1.0" />
<line x1="481.9" y1="228.5" x2="486.9" y2="228.5" stroke="#111" stroke-width="1.0" />
<line x1="493.7" y1="216.5" x2="493.7" y2="225.5" stroke="#111" stroke-width="0.95" />
<line x1="491.2" y1="216.5" x2="496.2" y2="216.5" stroke="#111" stroke-width="1.0" />
<line x1="491.2" y1="225.5" x2="496.2" y2="225.5" stroke="#111" stroke-width="1.0" />
<line x1="503.3" y1="216.5" x2="503.3" y2="225.5" stroke="#111" stroke-width="0.95" />
<line x1="500.8" y1="216.5" x2="505.8" y2="216.5" stroke="#111" stroke-width="1.0" />
<line x1="500.8" y1="225.5" x2="505.8" y2="225.5" stroke="#111" stroke-width="1.0" />
<path d="M399.8,210.85 L402.35,213.4 L399.8,215.95 L397.25,213.4 Z" fill="#c80632" stroke="#101010" stroke-width="1.1"/>
<path d="M409.2,203.05 L411.75,205.6 L409.2,208.15 L406.65,205.6 Z" fill="#c80632" stroke="#101010" stroke-width="1.1"/>
<path d="M418.6,211.55 L421.15,214.1 L418.6,216.65 L416.05,214.1 Z" fill="#c80632" stroke="#101010" stroke-width="1.1"/>
<path d="M428.1,218.45 L430.65,221 L428.1,223.55 L425.55,221 Z" fill="#c80632" stroke="#101010" stroke-width="1.1"/>
<path d="M437.5,220.15 L440.05,222.7 L437.5,225.25 L434.95,222.7 Z" fill="#c80632" stroke="#101010" stroke-width="1.1"/>
<path d="M446.8,220.95 L449.35,223.5 L446.8,226.05 L444.25,223.5 Z" fill="#c80632" stroke="#101010" stroke-width="1.1"/>
<path d="M456.3,220.75 L458.85,223.3 L456.3,225.85 L453.75,223.3 Z" fill="#c80632" stroke="#101010" stroke-width="1.1"/>
<path d="M465.7,218.55 L468.25,221.1 L465.7,223.65 L463.15,221.1 Z" fill="#c80632" stroke="#101010" stroke-width="1.1"/>
<path d="M475.2,220.25 L477.75,222.8 L475.2,225.35 L472.65,222.8 Z" fill="#c80632" stroke="#101010" stroke-width="1.1"/>
<path d="M484.4,221.25 L486.95,223.8 L484.4,226.35 L481.85,223.8 Z" fill="#c80632" stroke="#101010" stroke-width="1.1"/>
<path d="M493.7,218.55 L496.25,221.1 L493.7,223.65 L491.15,221.1 Z" fill="#c80632" stroke="#101010" stroke-width="1.1"/>
<path d="M503.3,218.35 L505.85,220.9 L503.3,223.45 L500.75,220.9 Z" fill="#c80632" stroke="#101010" stroke-width="1.1"/>
<line x1="510.1" y1="226.2" x2="510.1" y2="237.3" stroke="#222" stroke-width="1.1" />
<circle cx="501.5" cy="232.5" r="1.1" fill="#222"/>
<circle cx="504.45" cy="232.5" r="1.1" fill="#222"/>
<circle cx="507.4" cy="232.5" r="1.1" fill="#222"/>
<circle cx="191" cy="296.1" r="2.6" fill="#fff" stroke="#6cb33f" stroke-width="1.0"/>
<line x1="186.2" y1="296.1" x2="195.8" y2="296.1" stroke="#6cb33f" stroke-width="1.4" />
<text x="198.6" y="298.4" font-size="7.4" text-anchor="start" fill="#333" >BM only</text>
<line x1="239.3" y1="296.1" x2="249.2" y2="296.1" stroke="#24478a" stroke-width="1.2" />
<rect x="241.9" y="293.8" width="4.6" height="4.6" rx="0" fill="#33558f" stroke="#101010" stroke-width="1.25"/>
<text x="252.2" y="298.4" font-size="7.4" text-anchor="start" fill="#333" textLength="33.4" lengthAdjust="spacingAndGlyphs">BM + WT T</text>
<line x1="301.2" y1="296.1" x2="311.2" y2="296.1" stroke="#b80f3a" stroke-width="1.2" />
<path d="M306.1,293.4 L308.8,296.1 L306.1,298.8 L303.4,296.1 Z" fill="#c80632" stroke="#101010" stroke-width="1.1"/>
<text x="314.2" y="298.4" font-size="7.4" text-anchor="start" fill="#333" textLength="44.5" lengthAdjust="spacingAndGlyphs">BM + Nrf2-/- T</text>
<rect x="1.5" y="1.5" width="517" height="305" fill="none" stroke="#a8a8a8" stroke-width="1"/>
<rect x="0.5" y="0.5" width="519" height="307" fill="none" stroke="#000" stroke-width="1"/>
</svg></div>
</body></html>
